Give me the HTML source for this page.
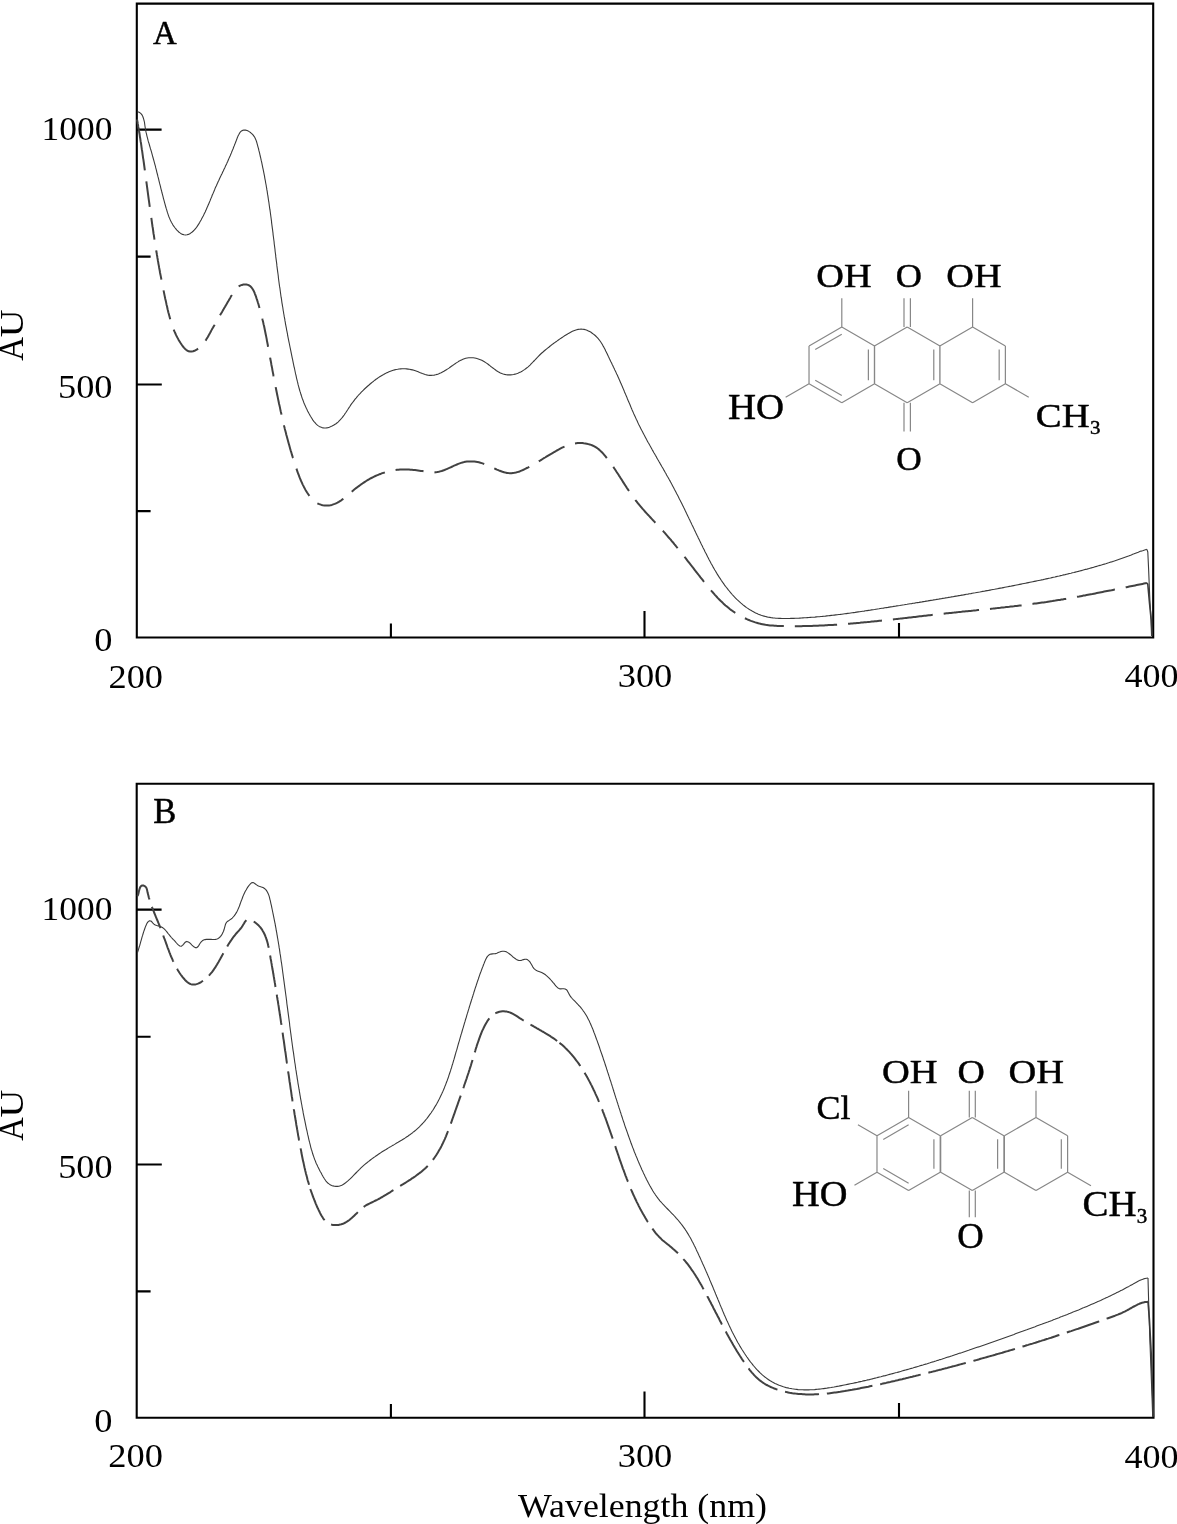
<!DOCTYPE html>
<html><head><meta charset="utf-8"><title>UV spectra</title>
<style>
html,body{margin:0;padding:0;background:#fff;}
body{width:1177px;height:1524px;overflow:hidden;position:relative;font-family:"Liberation Serif",serif;}
svg{position:absolute;left:0;top:0;display:block;filter:grayscale(100%);}
</style></head>
<body>
<svg width="1177" height="1524" viewBox="0 0 1177 1524">
<rect x="0" y="0" width="1177" height="1524" fill="#ffffff"/>
<!-- Panel A frame and ticks -->
<g fill="none" stroke="#000" stroke-width="2.1">
<path d="M136.8,3.6 H1153.2 V637.5 H136.8 Z"/>
<path d="M136.8,129.6 H161.6 M136.8,256.6 H150.6 M136.8,384.5 H161.8 M136.8,511.1 H150.6"/>
<path d="M390.9,623.5 V637.5 M644.5,611 V637.5 M899,623 V637.5"/>
</g>
<!-- Panel B frame and ticks -->
<g fill="none" stroke="#000" stroke-width="2.1">
<path d="M136.7,783.8 H1153.5 V1417.7 H136.7 Z"/>
<path d="M136.7,909.6 H161.6 M136.7,1036.7 H150.6 M136.7,1164.5 H161.8 M136.7,1291.4 H150.6"/>
<path d="M390.9,1404 V1417.7 M644.5,1391.5 V1417.7 M899,1403 V1417.7"/>
</g>
<!-- curves -->
<g fill="none" stroke-linejoin="round">
<path d="M137.7,111.7 L139.1,112.2 L140.4,113.1 L141.4,114.1 L142.3,115.4 L142.9,116.8 L143.4,118.2 L143.8,119.6 L144.2,121.1 L144.5,122.5 L144.7,124.0 L144.9,125.5 L145.1,127.0 L145.4,128.5 L145.7,130.0 L145.9,131.4 L146.2,132.9 L146.6,134.4 L146.9,135.8 L147.3,137.3 L147.7,138.8 L148.0,140.2 L148.4,141.7 L148.9,143.1 L149.3,144.5 L149.7,146.0 L150.1,147.4 L150.5,148.9 L151.0,150.3 L151.4,151.7 L151.8,153.2 L152.2,154.6 L152.6,156.1 L153.0,157.5 L153.4,159.0 L153.8,160.4 L154.2,161.9 L154.6,163.3 L155.0,164.8 L155.4,166.2 L155.7,167.7 L156.1,169.2 L156.5,170.6 L156.8,172.1 L157.2,173.5 L157.6,175.0 L157.9,176.4 L158.3,177.9 L158.7,179.4 L159.0,180.8 L159.4,182.3 L159.7,183.7 L160.1,185.2 L160.5,186.6 L160.8,188.1 L161.2,189.6 L161.6,191.0 L161.9,192.5 L162.3,193.9 L162.7,195.4 L163.1,196.8 L163.4,198.3 L163.8,199.7 L164.2,201.2 L164.6,202.6 L165.0,204.1 L165.4,205.5 L165.8,207.0 L166.2,208.4 L166.7,209.9 L167.1,211.3 L167.5,212.7 L168.0,214.2 L168.5,215.6 L169.0,217.0 L169.6,218.4 L170.2,219.8 L170.8,221.1 L171.5,222.5 L172.3,223.8 L173.0,225.1 L173.9,226.3 L174.7,227.5 L175.7,228.7 L176.6,229.9 L177.7,230.9 L178.8,232.0 L180.0,232.9 L181.2,233.7 L182.6,234.4 L184.0,234.8 L185.5,235.0 L187.0,234.8 L188.4,234.4 L189.8,233.8 L191.0,232.9 L192.2,232.0 L193.3,231.0 L194.4,229.9 L195.3,228.8 L196.3,227.6 L197.2,226.4 L198.0,225.1 L198.8,223.9 L199.6,222.6 L200.3,221.3 L201.1,220.0 L201.8,218.6 L202.5,217.3 L203.2,216.0 L203.9,214.6 L204.5,213.3 L205.2,211.9 L205.8,210.6 L206.4,209.2 L207.0,207.8 L207.6,206.4 L208.2,205.1 L208.8,203.7 L209.4,202.3 L210.0,200.9 L210.5,199.5 L211.1,198.1 L211.7,196.7 L212.2,195.3 L212.8,194.0 L213.4,192.6 L214.0,191.2 L214.6,189.8 L215.1,188.4 L215.7,187.0 L216.4,185.7 L217.0,184.3 L217.6,182.9 L218.2,181.6 L218.9,180.2 L219.5,178.8 L220.1,177.5 L220.8,176.1 L221.4,174.8 L222.1,173.4 L222.7,172.1 L223.4,170.7 L224.0,169.3 L224.7,168.0 L225.3,166.6 L225.9,165.3 L226.6,163.9 L227.2,162.5 L227.8,161.2 L228.4,159.8 L229.0,158.4 L229.6,157.0 L230.2,155.7 L230.8,154.3 L231.4,152.9 L231.9,151.5 L232.5,150.1 L233.1,148.7 L233.6,147.3 L234.2,145.9 L234.7,144.5 L235.3,143.1 L235.8,141.7 L236.4,140.3 L236.9,138.9 L237.4,137.5 L238.0,136.1 L238.7,134.8 L239.4,133.4 L240.2,132.2 L241.3,131.1 L242.6,130.4 L244.0,130.0 L245.5,130.1 L247.0,130.5 L248.3,131.1 L249.6,131.9 L250.8,132.8 L252.0,133.8 L253.0,134.9 L253.9,136.1 L254.7,137.3 L255.4,138.7 L256.0,140.1 L256.5,141.5 L256.9,142.9 L257.3,144.3 L257.7,145.8 L258.1,147.3 L258.5,148.7 L258.8,150.2 L259.2,151.6 L259.6,153.1 L259.9,154.6 L260.2,156.0 L260.6,157.5 L260.9,158.9 L261.2,160.4 L261.6,161.9 L261.9,163.3 L262.2,164.8 L262.5,166.3 L262.8,167.8 L263.1,169.2 L263.4,170.7 L263.7,172.2 L264.0,173.6 L264.3,175.1 L264.6,176.6 L264.8,178.1 L265.1,179.6 L265.4,181.0 L265.6,182.5 L265.9,184.0 L266.2,185.5 L266.4,187.0 L266.7,188.4 L266.9,189.9 L267.2,191.4 L267.4,192.9 L267.6,194.4 L267.9,195.9 L268.1,197.3 L268.3,198.8 L268.5,200.3 L268.8,201.8 L269.0,203.3 L269.2,204.8 L269.4,206.3 L269.6,207.7 L269.8,209.2 L270.1,210.7 L270.3,212.2 L270.5,213.7 L270.7,215.2 L270.9,216.7 L271.1,218.2 L271.3,219.7 L271.5,221.1 L271.6,222.6 L271.8,224.1 L272.0,225.6 L272.2,227.1 L272.4,228.6 L272.6,230.1 L272.8,231.6 L273.0,233.1 L273.1,234.6 L273.3,236.0 L273.5,237.5 L273.7,239.0 L273.9,240.5 L274.1,242.0 L274.2,243.5 L274.4,245.0 L274.6,246.5 L274.8,248.0 L275.0,249.5 L275.1,251.0 L275.3,252.5 L275.5,254.0 L275.7,255.4 L275.8,256.9 L276.0,258.4 L276.2,259.9 L276.4,261.4 L276.6,262.9 L276.8,264.4 L276.9,265.9 L277.1,267.4 L277.3,268.9 L277.5,270.4 L277.7,271.8 L277.9,273.3 L278.1,274.8 L278.3,276.3 L278.4,277.8 L278.6,279.3 L278.8,280.8 L279.0,282.3 L279.2,283.8 L279.4,285.3 L279.6,286.7 L279.9,288.2 L280.1,289.7 L280.3,291.2 L280.5,292.7 L280.7,294.2 L280.9,295.7 L281.1,297.2 L281.4,298.6 L281.6,300.1 L281.8,301.6 L282.0,303.1 L282.3,304.6 L282.5,306.1 L282.8,307.5 L283.0,309.0 L283.2,310.5 L283.5,312.0 L283.7,313.5 L284.0,315.0 L284.2,316.4 L284.5,317.9 L284.8,319.4 L285.0,320.9 L285.3,322.4 L285.5,323.8 L285.8,325.3 L286.1,326.8 L286.4,328.3 L286.6,329.8 L286.9,331.2 L287.2,332.7 L287.5,334.2 L287.7,335.7 L288.0,337.1 L288.3,338.6 L288.6,340.1 L288.9,341.6 L289.2,343.0 L289.5,344.5 L289.8,346.0 L290.1,347.5 L290.4,348.9 L290.7,350.4 L291.0,351.9 L291.3,353.3 L291.6,354.8 L291.9,356.3 L292.2,357.8 L292.5,359.2 L292.8,360.7 L293.1,362.2 L293.4,363.6 L293.7,365.1 L294.0,366.6 L294.4,368.0 L294.7,369.5 L295.0,371.0 L295.3,372.5 L295.6,373.9 L296.0,375.4 L296.3,376.9 L296.6,378.3 L297.0,379.8 L297.3,381.2 L297.7,382.7 L298.0,384.2 L298.4,385.6 L298.8,387.1 L299.2,388.5 L299.6,390.0 L300.0,391.4 L300.5,392.8 L300.9,394.3 L301.4,395.7 L301.8,397.1 L302.3,398.5 L302.9,400.0 L303.4,401.4 L303.9,402.8 L304.5,404.2 L305.1,405.5 L305.7,406.9 L306.3,408.3 L307.0,409.6 L307.6,411.0 L308.3,412.3 L309.0,413.6 L309.8,415.0 L310.5,416.3 L311.3,417.5 L312.1,418.8 L312.9,420.1 L313.8,421.3 L314.8,422.4 L315.8,423.6 L316.8,424.6 L318.0,425.6 L319.2,426.4 L320.6,427.1 L322.0,427.6 L323.5,427.9 L325.0,428.0 L326.4,427.9 L327.9,427.6 L329.4,427.2 L330.8,426.6 L332.1,426.0 L333.5,425.3 L334.7,424.5 L336.0,423.7 L337.2,422.8 L338.3,421.8 L339.4,420.7 L340.4,419.7 L341.4,418.5 L342.4,417.4 L343.3,416.2 L344.2,415.0 L345.0,413.7 L345.9,412.5 L346.7,411.2 L347.5,410.0 L348.3,408.7 L349.2,407.4 L350.0,406.2 L350.8,404.9 L351.7,403.7 L352.6,402.5 L353.5,401.3 L354.4,400.1 L355.3,398.9 L356.3,397.8 L357.2,396.6 L358.2,395.5 L359.2,394.4 L360.3,393.3 L361.3,392.2 L362.4,391.1 L363.4,390.1 L364.5,389.0 L365.6,388.0 L366.7,387.0 L367.8,386.0 L369.0,385.0 L370.1,384.0 L371.3,383.0 L372.4,382.1 L373.6,381.2 L374.8,380.2 L376.0,379.3 L377.2,378.5 L378.4,377.6 L379.7,376.8 L381.0,376.0 L382.3,375.2 L383.6,374.5 L384.9,373.7 L386.2,373.1 L387.6,372.4 L389.0,371.8 L390.4,371.3 L391.8,370.8 L393.2,370.3 L394.6,369.9 L396.1,369.5 L397.6,369.3 L399.1,369.0 L400.6,368.9 L402.1,368.8 L403.6,368.8 L405.1,368.8 L406.6,368.9 L408.1,369.1 L409.5,369.3 L411.0,369.6 L412.5,369.9 L413.9,370.3 L415.4,370.8 L416.8,371.3 L418.2,371.8 L419.6,372.4 L421.0,372.9 L422.4,373.5 L423.8,374.0 L425.2,374.5 L426.7,374.9 L428.1,375.2 L429.6,375.4 L431.1,375.4 L432.6,375.3 L434.1,375.1 L435.6,374.8 L437.0,374.4 L438.4,373.9 L439.8,373.3 L441.2,372.7 L442.5,372.0 L443.9,371.3 L445.1,370.5 L446.4,369.7 L447.7,368.9 L448.9,368.1 L450.1,367.2 L451.4,366.3 L452.6,365.5 L453.8,364.6 L455.1,363.7 L456.3,362.9 L457.6,362.1 L458.8,361.3 L460.2,360.6 L461.5,359.9 L462.9,359.3 L464.3,358.7 L465.7,358.3 L467.2,358.0 L468.7,357.8 L470.2,357.7 L471.7,357.7 L473.2,357.8 L474.7,358.0 L476.1,358.3 L477.6,358.7 L479.0,359.2 L480.4,359.7 L481.8,360.3 L483.1,361.0 L484.4,361.8 L485.7,362.6 L486.9,363.4 L488.1,364.3 L489.3,365.2 L490.5,366.2 L491.7,367.1 L492.9,368.0 L494.1,368.9 L495.3,369.8 L496.5,370.7 L497.8,371.5 L499.1,372.2 L500.4,372.9 L501.8,373.5 L503.2,374.0 L504.7,374.4 L506.2,374.7 L507.6,374.9 L509.1,374.9 L510.6,374.9 L512.1,374.7 L513.6,374.5 L515.1,374.1 L516.5,373.7 L517.9,373.2 L519.3,372.6 L520.7,371.9 L522.0,371.2 L523.3,370.4 L524.5,369.6 L525.7,368.7 L526.9,367.8 L528.1,366.8 L529.2,365.8 L530.3,364.8 L531.3,363.7 L532.4,362.6 L533.4,361.5 L534.5,360.5 L535.5,359.4 L536.5,358.3 L537.6,357.2 L538.6,356.1 L539.7,355.0 L540.7,354.0 L541.8,353.0 L543.0,352.0 L544.1,351.0 L545.3,350.0 L546.4,349.1 L547.6,348.1 L548.8,347.2 L549.9,346.3 L551.1,345.3 L552.3,344.4 L553.5,343.5 L554.7,342.6 L556.0,341.7 L557.2,340.9 L558.4,340.0 L559.6,339.1 L560.9,338.3 L562.1,337.5 L563.4,336.6 L564.6,335.8 L565.9,335.0 L567.2,334.2 L568.5,333.4 L569.8,332.7 L571.1,332.0 L572.4,331.3 L573.8,330.7 L575.2,330.2 L576.7,329.7 L578.1,329.4 L579.6,329.2 L581.1,329.1 L582.6,329.2 L584.1,329.4 L585.5,329.8 L587.0,330.3 L588.3,330.9 L589.7,331.6 L591.0,332.3 L592.2,333.2 L593.4,334.1 L594.6,335.0 L595.7,336.0 L596.8,337.1 L597.8,338.2 L598.8,339.3 L599.7,340.5 L600.6,341.8 L601.4,343.0 L602.2,344.3 L602.9,345.6 L603.7,346.9 L604.4,348.2 L605.1,349.6 L605.7,350.9 L606.4,352.2 L607.0,353.6 L607.7,355.0 L608.3,356.3 L609.0,357.7 L609.6,359.0 L610.3,360.4 L610.9,361.7 L611.6,363.1 L612.2,364.4 L612.9,365.8 L613.5,367.2 L614.2,368.5 L614.8,369.9 L615.5,371.2 L616.1,372.6 L616.7,374.0 L617.4,375.3 L618.0,376.7 L618.6,378.1 L619.2,379.4 L619.8,380.8 L620.4,382.2 L621.0,383.6 L621.6,384.9 L622.2,386.3 L622.8,387.7 L623.4,389.1 L624.0,390.5 L624.5,391.9 L625.1,393.2 L625.7,394.6 L626.3,396.0 L626.9,397.4 L627.4,398.8 L628.0,400.2 L628.6,401.6 L629.2,402.9 L629.8,404.3 L630.4,405.7 L630.9,407.1 L631.5,408.5 L632.1,409.9 L632.7,411.2 L633.3,412.6 L633.9,414.0 L634.6,415.4 L635.2,416.7 L635.8,418.1 L636.4,419.5 L637.1,420.8 L637.7,422.2 L638.3,423.5 L639.0,424.9 L639.7,426.2 L640.3,427.6 L641.0,428.9 L641.7,430.3 L642.4,431.6 L643.1,432.9 L643.8,434.3 L644.5,435.6 L645.2,436.9 L645.9,438.2 L646.6,439.6 L647.3,440.9 L648.0,442.2 L648.8,443.5 L649.5,444.8 L650.2,446.1 L651.0,447.5 L651.7,448.8 L652.4,450.1 L653.2,451.4 L653.9,452.7 L654.7,454.0 L655.4,455.3 L656.2,456.6 L656.9,457.9 L657.6,459.2 L658.4,460.5 L659.1,461.8 L659.9,463.1 L660.6,464.4 L661.4,465.7 L662.1,467.0 L662.9,468.3 L663.6,469.6 L664.4,470.9 L665.1,472.2 L665.9,473.5 L666.6,474.9 L667.3,476.2 L668.1,477.5 L668.8,478.8 L669.5,480.1 L670.3,481.4 L671.0,482.7 L671.7,484.1 L672.4,485.4 L673.1,486.7 L673.8,488.0 L674.5,489.4 L675.2,490.7 L675.9,492.0 L676.6,493.4 L677.3,494.7 L678.0,496.0 L678.7,497.4 L679.3,498.7 L680.0,500.1 L680.7,501.4 L681.4,502.7 L682.0,504.1 L682.7,505.4 L683.4,506.8 L684.0,508.1 L684.7,509.5 L685.3,510.8 L686.0,512.2 L686.6,513.5 L687.3,514.9 L687.9,516.2 L688.6,517.6 L689.2,519.0 L689.9,520.3 L690.5,521.7 L691.2,523.0 L691.8,524.4 L692.5,525.7 L693.1,527.1 L693.8,528.4 L694.4,529.8 L695.1,531.2 L695.7,532.5 L696.4,533.9 L697.0,535.2 L697.7,536.6 L698.3,537.9 L699.0,539.3 L699.6,540.6 L700.3,542.0 L700.9,543.3 L701.6,544.7 L702.3,546.0 L702.9,547.4 L703.6,548.7 L704.3,550.1 L704.9,551.4 L705.6,552.8 L706.3,554.1 L707.0,555.5 L707.6,556.8 L708.3,558.1 L709.0,559.5 L709.7,560.8 L710.4,562.1 L711.1,563.4 L711.9,564.8 L712.6,566.1 L713.3,567.4 L714.1,568.7 L714.8,570.0 L715.6,571.3 L716.4,572.6 L717.1,573.9 L717.9,575.1 L718.7,576.4 L719.5,577.7 L720.4,578.9 L721.2,580.2 L722.0,581.4 L722.9,582.7 L723.8,583.9 L724.6,585.1 L725.5,586.3 L726.5,587.5 L727.4,588.7 L728.3,589.9 L729.3,591.0 L730.2,592.2 L731.2,593.3 L732.2,594.5 L733.2,595.6 L734.2,596.7 L735.3,597.8 L736.3,598.8 L737.4,599.9 L738.5,600.9 L739.6,601.9 L740.7,602.9 L741.9,603.9 L743.0,604.9 L744.2,605.8 L745.4,606.7 L746.6,607.6 L747.8,608.4 L749.1,609.3 L750.4,610.1 L751.7,610.8 L753.0,611.6 L754.3,612.3 L755.6,613.0 L757.0,613.6 L758.4,614.2 L759.8,614.7 L761.2,615.3 L762.6,615.7 L764.0,616.1 L765.5,616.5 L767.0,616.9 L768.4,617.2 L769.9,617.4 L771.4,617.7 L772.9,617.9 L774.4,618.0 L775.9,618.2 L777.4,618.3 L778.9,618.4 L780.4,618.4 L781.9,618.5 L783.4,618.5 L784.9,618.5 L786.4,618.5 L787.9,618.5 L789.4,618.5 L790.9,618.4 L792.4,618.4 L793.9,618.4 L795.4,618.3 L796.9,618.2 L798.4,618.2 L799.9,618.1 L801.4,618.0 L802.9,617.9 L804.4,617.8 L805.9,617.7 L807.4,617.6 L808.9,617.5 L810.4,617.4 L811.9,617.3 L813.4,617.2 L814.9,617.1 L816.4,616.9 L817.9,616.8 L819.4,616.7 L820.9,616.5 L822.4,616.4 L823.9,616.2 L825.4,616.1 L826.9,615.9 L828.4,615.8 L829.8,615.6 L831.3,615.4 L832.8,615.3 L834.3,615.1 L835.8,614.9 L837.3,614.7 L838.8,614.5 L840.3,614.4 L841.8,614.2 L843.3,614.0 L844.8,613.8 L846.3,613.6 L847.7,613.4 L849.2,613.2 L850.7,613.0 L852.2,612.8 L853.7,612.6 L855.2,612.4 L856.7,612.1 L858.2,611.9 L859.6,611.7 L861.1,611.5 L862.6,611.3 L864.1,611.1 L865.6,610.8 L867.1,610.6 L868.6,610.4 L870.0,610.2 L871.5,609.9 L873.0,609.7 L874.5,609.5 L876.0,609.2 L877.5,609.0 L879.0,608.8 L880.4,608.5 L881.9,608.3 L883.4,608.1 L884.9,607.8 L886.4,607.6 L887.9,607.4 L889.3,607.1 L890.8,606.9 L892.3,606.7 L893.8,606.4 L895.3,606.2 L896.8,605.9 L898.2,605.7 L899.7,605.5 L901.2,605.2 L902.7,605.0 L904.2,604.8 L905.7,604.5 L907.1,604.3 L908.6,604.0 L910.1,603.8 L911.6,603.6 L913.1,603.3 L914.6,603.1 L916.0,602.8 L917.5,602.6 L919.0,602.4 L920.5,602.1 L922.0,601.9 L923.5,601.6 L924.9,601.4 L926.4,601.1 L927.9,600.9 L929.4,600.6 L930.9,600.4 L932.4,600.2 L933.8,599.9 L935.3,599.7 L936.8,599.4 L938.3,599.2 L939.8,598.9 L941.2,598.7 L942.7,598.4 L944.2,598.2 L945.7,597.9 L947.2,597.7 L948.7,597.4 L950.1,597.2 L951.6,596.9 L953.1,596.7 L954.6,596.4 L956.1,596.1 L957.5,595.9 L959.0,595.6 L960.5,595.4 L962.0,595.1 L963.5,594.9 L964.9,594.6 L966.4,594.3 L967.9,594.1 L969.4,593.8 L970.9,593.6 L972.3,593.3 L973.8,593.0 L975.3,592.8 L976.8,592.5 L978.3,592.2 L979.7,592.0 L981.2,591.7 L982.7,591.4 L984.2,591.2 L985.6,590.9 L987.1,590.6 L988.6,590.4 L990.1,590.1 L991.6,589.8 L993.0,589.5 L994.5,589.3 L996.0,589.0 L997.5,588.7 L998.9,588.4 L1000.4,588.1 L1001.9,587.9 L1003.4,587.6 L1004.8,587.3 L1006.3,587.0 L1007.8,586.7 L1009.3,586.4 L1010.7,586.2 L1012.2,585.9 L1013.7,585.6 L1015.2,585.3 L1016.6,585.0 L1018.1,584.7 L1019.6,584.4 L1021.1,584.1 L1022.5,583.8 L1024.0,583.5 L1025.5,583.2 L1027.0,582.9 L1028.4,582.6 L1029.9,582.3 L1031.4,582.0 L1032.8,581.7 L1034.3,581.4 L1035.8,581.1 L1037.3,580.8 L1038.7,580.5 L1040.2,580.2 L1041.7,579.9 L1043.1,579.6 L1044.6,579.2 L1046.1,578.9 L1047.5,578.6 L1049.0,578.3 L1050.5,578.0 L1051.9,577.6 L1053.4,577.3 L1054.9,577.0 L1056.3,576.6 L1057.8,576.3 L1059.3,576.0 L1060.7,575.6 L1062.2,575.3 L1063.7,574.9 L1065.1,574.6 L1066.6,574.2 L1068.0,573.9 L1069.5,573.5 L1071.0,573.2 L1072.4,572.8 L1073.9,572.5 L1075.3,572.1 L1076.8,571.7 L1078.3,571.4 L1079.7,571.0 L1081.2,570.6 L1082.6,570.2 L1084.1,569.8 L1085.5,569.4 L1087.0,569.1 L1088.4,568.7 L1089.9,568.3 L1091.3,567.9 L1092.8,567.5 L1094.2,567.1 L1095.7,566.6 L1097.1,566.2 L1098.5,565.8 L1100.0,565.4 L1101.4,565.0 L1102.9,564.5 L1104.3,564.1 L1105.7,563.7 L1107.2,563.2 L1108.6,562.8 L1110.1,562.3 L1111.5,561.9 L1112.9,561.4 L1114.3,561.0 L1115.8,560.5 L1117.2,560.0 L1118.6,559.5 L1120.0,559.0 L1121.5,558.5 L1122.9,558.0 L1124.3,557.5 L1125.7,557.0 L1127.1,556.5 L1128.5,556.0 L1129.9,555.4 L1131.3,554.9 L1132.7,554.3 L1134.1,553.8 L1135.5,553.2 L1136.9,552.7 L1138.3,552.2 L1139.7,551.6 L1141.1,551.1 L1142.6,550.7 L1144.0,550.2 L1145.4,549.8 L1146.9,549.4" stroke="#3a3a3a" stroke-width="1.1"/>
<path d="M137.0,119.5 L137.3,121.0 L137.6,122.5 L137.8,124.0 L138.1,125.4 L138.3,126.9 L138.6,128.4 L138.8,129.9 L139.1,131.4 L139.3,132.8 L139.6,134.3 L139.8,135.8 L140.0,137.3 L140.3,138.8 L140.5,140.3 L140.7,141.7 L141.0,143.2 L141.2,144.7 L141.4,146.2 L141.6,147.7 L141.8,149.2 L142.1,150.7 L142.3,152.1 L142.5,153.6 L142.7,155.1 L142.9,156.6 L143.1,158.1 L143.4,159.6 L143.6,161.1 L143.8,162.5 L144.0,164.0 L144.2,165.5 L144.4,167.0 L144.6,168.5 L144.8,170.0 L145.0,171.5 L145.2,173.0 L145.4,174.4 L145.6,175.9 L145.8,177.4 L146.0,178.9 L146.2,180.4 L146.4,181.9 L146.6,183.4 L146.8,184.9 L147.0,186.4 L147.2,187.8 L147.4,189.3 L147.6,190.8 L147.8,192.3 L148.0,193.8 L148.2,195.3 L148.4,196.8 L148.6,198.3 L148.8,199.8 L149.0,201.2 L149.2,202.7 L149.4,204.2 L149.6,205.7 L149.8,207.2 L150.0,208.7 L150.2,210.2 L150.4,211.7 L150.6,213.1 L150.8,214.6 L151.1,216.1 L151.3,217.6 L151.5,219.1 L151.7,220.6 L151.9,222.1 L152.1,223.6 L152.3,225.0 L152.5,226.5 L152.8,228.0 L153.0,229.5 L153.2,231.0 L153.4,232.5 L153.6,234.0 L153.9,235.4 L154.1,236.9 L154.3,238.4 L154.5,239.9 L154.8,241.4 L155.0,242.9 L155.2,244.4 L155.5,245.8 L155.7,247.3 L156.0,248.8 L156.2,250.3 L156.4,251.8 L156.7,253.2 L156.9,254.7 L157.2,256.2 L157.4,257.7 L157.7,259.2 L157.9,260.7 L158.2,262.1 L158.4,263.6 L158.7,265.1 L159.0,266.6 L159.2,268.0 L159.5,269.5 L159.8,271.0 L160.0,272.5 L160.3,274.0 L160.6,275.4 L160.9,276.9 L161.2,278.4 L161.4,279.9 L161.7,281.3 L162.0,282.8 L162.3,284.3 L162.6,285.8 L162.9,287.2 L163.2,288.7 L163.5,290.2 L163.8,291.6 L164.1,293.1 L164.4,294.6 L164.7,296.1 L165.0,297.5 L165.3,299.0 L165.7,300.5 L166.0,301.9 L166.3,303.4 L166.6,304.9 L167.0,306.3 L167.3,307.8 L167.6,309.3 L168.0,310.7 L168.3,312.2 L168.7,313.6 L169.1,315.1 L169.5,316.5 L169.9,318.0 L170.3,319.4 L170.7,320.9 L171.1,322.3 L171.6,323.7 L172.1,325.2 L172.6,326.6 L173.1,328.0 L173.6,329.4 L174.2,330.8 L174.8,332.2 L175.4,333.5 L176.0,334.9 L176.7,336.3 L177.4,337.6 L178.1,338.9 L178.8,340.2 L179.6,341.5 L180.4,342.8 L181.2,344.0 L182.1,345.3 L183.0,346.5 L183.9,347.6 L184.9,348.7 L186.1,349.7 L187.3,350.6 L188.6,351.3 L190.1,351.6 L191.6,351.6 L193.1,351.3 L194.5,350.8 L195.8,350.1 L197.1,349.4 L198.3,348.5 L199.5,347.6 L200.6,346.6 L201.7,345.5 L202.7,344.4 L203.7,343.2 L204.6,342.0 L205.4,340.8 L206.2,339.6 L207.0,338.3 L207.8,337.0 L208.5,335.7 L209.2,334.4 L210.0,333.0 L210.7,331.7 L211.4,330.4 L212.1,329.1 L212.9,327.8 L213.6,326.5 L214.4,325.2 L215.1,323.9 L215.8,322.6 L216.6,321.3 L217.3,320.0 L218.1,318.7 L218.8,317.4 L219.6,316.1 L220.3,314.8 L221.1,313.5 L221.9,312.2 L222.6,310.9 L223.4,309.6 L224.1,308.3 L224.9,307.0 L225.6,305.7 L226.4,304.4 L227.2,303.1 L227.9,301.8 L228.7,300.5 L229.4,299.2 L230.2,297.9 L230.9,296.6 L231.7,295.3 L232.4,294.0 L233.2,292.7 L234.0,291.4 L234.9,290.2 L235.8,289.0 L236.9,287.9 L238.0,287.0 L239.2,286.1 L240.6,285.4 L242.0,284.9 L243.4,284.6 L244.9,284.5 L246.4,284.5 L247.9,284.9 L249.3,285.5 L250.5,286.4 L251.5,287.5 L252.4,288.7 L253.2,290.0 L253.9,291.3 L254.5,292.7 L255.0,294.1 L255.6,295.5 L256.1,296.9 L256.5,298.3 L257.0,299.7 L257.5,301.2 L257.9,302.6 L258.4,304.0 L258.8,305.5 L259.2,306.9 L259.6,308.4 L260.0,309.8 L260.4,311.2 L260.8,312.7 L261.2,314.2 L261.6,315.6 L261.9,317.1 L262.3,318.5 L262.6,320.0 L263.0,321.4 L263.3,322.9 L263.6,324.4 L264.0,325.8 L264.3,327.3 L264.6,328.8 L264.9,330.3 L265.2,331.7 L265.5,333.2 L265.8,334.7 L266.1,336.1 L266.4,337.6 L266.7,339.1 L266.9,340.6 L267.2,342.0 L267.5,343.5 L267.8,345.0 L268.0,346.5 L268.3,347.9 L268.6,349.4 L268.9,350.9 L269.1,352.4 L269.4,353.9 L269.7,355.3 L270.0,356.8 L270.2,358.3 L270.5,359.8 L270.8,361.2 L271.1,362.7 L271.3,364.2 L271.6,365.7 L271.9,367.1 L272.2,368.6 L272.4,370.1 L272.7,371.6 L273.0,373.1 L273.3,374.5 L273.5,376.0 L273.8,377.5 L274.1,379.0 L274.4,380.4 L274.7,381.9 L275.0,383.4 L275.2,384.9 L275.5,386.3 L275.8,387.8 L276.1,389.3 L276.4,390.7 L276.7,392.2 L277.0,393.7 L277.3,395.2 L277.6,396.6 L277.9,398.1 L278.2,399.6 L278.5,401.0 L278.8,402.5 L279.1,404.0 L279.5,405.5 L279.8,406.9 L280.1,408.4 L280.4,409.9 L280.7,411.3 L281.1,412.8 L281.4,414.3 L281.7,415.7 L282.1,417.2 L282.4,418.6 L282.7,420.1 L283.1,421.6 L283.4,423.0 L283.8,424.5 L284.1,426.0 L284.5,427.4 L284.8,428.9 L285.2,430.3 L285.6,431.8 L286.0,433.2 L286.3,434.7 L286.7,436.1 L287.1,437.6 L287.5,439.1 L287.9,440.5 L288.3,442.0 L288.7,443.4 L289.1,444.8 L289.5,446.3 L289.9,447.7 L290.3,449.2 L290.7,450.6 L291.2,452.1 L291.6,453.5 L292.0,454.9 L292.5,456.4 L292.9,457.8 L293.4,459.2 L293.8,460.7 L294.3,462.1 L294.7,463.5 L295.2,465.0 L295.7,466.4 L296.2,467.8 L296.6,469.2 L297.1,470.6 L297.6,472.1 L298.1,473.5 L298.7,474.9 L299.2,476.3 L299.7,477.7 L300.3,479.1 L300.9,480.5 L301.5,481.8 L302.1,483.2 L302.7,484.6 L303.4,485.9 L304.1,487.3 L304.8,488.6 L305.5,489.9 L306.3,491.2 L307.1,492.5 L307.9,493.7 L308.8,495.0 L309.6,496.2 L310.6,497.4 L311.5,498.5 L312.5,499.6 L313.6,500.7 L314.8,501.6 L316.0,502.5 L317.3,503.3 L318.6,503.9 L320.0,504.4 L321.5,504.9 L322.9,505.2 L324.4,505.4 L325.9,505.5 L327.4,505.5 L328.9,505.4 L330.4,505.2 L331.9,504.9 L333.3,504.4 L334.7,503.9 L336.1,503.3 L337.5,502.7 L338.8,501.9 L340.0,501.1 L341.3,500.3 L342.5,499.4 L343.7,498.5 L344.9,497.6 L346.0,496.6 L347.2,495.6 L348.3,494.7 L349.4,493.7 L350.6,492.7 L351.7,491.7 L352.9,490.7 L354.0,489.8 L355.2,488.8 L356.4,487.9 L357.6,487.0 L358.8,486.1 L360.0,485.2 L361.2,484.3 L362.4,483.5 L363.7,482.6 L364.9,481.8 L366.2,481.0 L367.5,480.2 L368.8,479.5 L370.1,478.7 L371.4,478.0 L372.7,477.3 L374.1,476.6 L375.4,476.0 L376.8,475.4 L378.2,474.8 L379.6,474.2 L381.0,473.7 L382.4,473.1 L383.8,472.7 L385.2,472.2 L386.7,471.8 L388.1,471.4 L389.6,471.1 L391.1,470.7 L392.5,470.5 L394.0,470.2 L395.5,470.0 L397.0,469.8 L398.5,469.7 L400.0,469.6 L401.5,469.5 L403.0,469.5 L404.5,469.5 L406.0,469.5 L407.5,469.6 L409.0,469.6 L410.5,469.7 L412.0,469.8 L413.5,470.0 L415.0,470.1 L416.5,470.3 L418.0,470.5 L419.5,470.7 L420.9,470.9 L422.4,471.1 L423.9,471.4 L425.4,471.6 L426.9,471.9 L428.4,472.1 L429.8,472.3 L431.3,472.4 L432.8,472.5 L434.3,472.5 L435.8,472.3 L437.3,472.1 L438.8,471.8 L440.2,471.4 L441.7,471.0 L443.1,470.5 L444.5,470.0 L445.9,469.4 L447.3,468.8 L448.7,468.2 L450.0,467.6 L451.4,467.0 L452.7,466.3 L454.1,465.7 L455.5,465.1 L456.9,464.5 L458.3,463.9 L459.7,463.4 L461.1,462.9 L462.5,462.5 L464.0,462.1 L465.4,461.8 L466.9,461.6 L468.4,461.4 L469.9,461.4 L471.4,461.4 L472.9,461.4 L474.4,461.6 L475.9,461.8 L477.4,462.0 L478.9,462.3 L480.3,462.7 L481.8,463.1 L483.2,463.6 L484.6,464.1 L486.0,464.7 L487.4,465.2 L488.8,465.8 L490.1,466.5 L491.5,467.1 L492.8,467.7 L494.2,468.4 L495.6,469.0 L496.9,469.6 L498.3,470.2 L499.7,470.8 L501.1,471.3 L502.5,471.8 L504.0,472.2 L505.4,472.6 L506.9,472.9 L508.4,473.1 L509.9,473.2 L511.4,473.2 L512.9,473.0 L514.4,472.8 L515.9,472.5 L517.3,472.1 L518.7,471.7 L520.1,471.2 L521.5,470.6 L522.9,470.0 L524.3,469.3 L525.6,468.7 L526.9,468.0 L528.3,467.3 L529.6,466.6 L530.9,465.8 L532.2,465.1 L533.5,464.4 L534.8,463.6 L536.1,462.9 L537.4,462.1 L538.7,461.3 L540.0,460.6 L541.3,459.8 L542.6,459.0 L543.9,458.2 L545.1,457.5 L546.4,456.7 L547.7,455.9 L549.0,455.1 L550.3,454.3 L551.6,453.6 L552.9,452.8 L554.2,452.0 L555.5,451.3 L556.8,450.5 L558.1,449.8 L559.4,449.1 L560.7,448.4 L562.1,447.7 L563.4,447.1 L564.8,446.5 L566.2,445.9 L567.6,445.4 L569.0,444.9 L570.5,444.5 L571.9,444.1 L573.4,443.8 L574.9,443.5 L576.3,443.3 L577.8,443.1 L579.3,443.1 L580.8,443.1 L582.3,443.1 L583.8,443.3 L585.3,443.4 L586.8,443.7 L588.3,444.1 L589.7,444.5 L591.1,444.9 L592.5,445.5 L593.9,446.1 L595.2,446.9 L596.5,447.7 L597.7,448.5 L598.9,449.4 L600.0,450.4 L601.1,451.5 L602.2,452.5 L603.2,453.6 L604.2,454.8 L605.1,455.9 L606.1,457.1 L607.0,458.3 L607.9,459.5 L608.8,460.7 L609.7,461.9 L610.6,463.1 L611.5,464.3 L612.3,465.5 L613.2,466.8 L614.0,468.0 L614.9,469.3 L615.7,470.5 L616.5,471.8 L617.3,473.0 L618.2,474.3 L619.0,475.6 L619.8,476.8 L620.6,478.1 L621.4,479.3 L622.2,480.6 L623.0,481.9 L623.8,483.1 L624.6,484.4 L625.5,485.7 L626.3,486.9 L627.1,488.2 L627.9,489.4 L628.8,490.7 L629.6,491.9 L630.4,493.2 L631.3,494.4 L632.2,495.6 L633.0,496.9 L633.9,498.1 L634.8,499.3 L635.7,500.5 L636.7,501.6 L637.6,502.8 L638.5,504.0 L639.5,505.1 L640.5,506.3 L641.4,507.4 L642.4,508.6 L643.4,509.7 L644.4,510.8 L645.4,512.0 L646.4,513.1 L647.4,514.2 L648.5,515.3 L649.5,516.4 L650.5,517.5 L651.5,518.6 L652.5,519.7 L653.6,520.8 L654.6,521.9 L655.6,523.0 L656.7,524.1 L657.7,525.2 L658.7,526.3 L659.7,527.4 L660.7,528.5 L661.8,529.6 L662.8,530.7 L663.8,531.8 L664.8,532.9 L665.8,534.1 L666.7,535.2 L667.7,536.3 L668.7,537.5 L669.7,538.6 L670.7,539.7 L671.6,540.9 L672.6,542.0 L673.6,543.2 L674.5,544.4 L675.5,545.5 L676.4,546.7 L677.4,547.8 L678.3,549.0 L679.2,550.2 L680.2,551.4 L681.1,552.5 L682.1,553.7 L683.0,554.9 L683.9,556.1 L684.8,557.2 L685.8,558.4 L686.7,559.6 L687.6,560.8 L688.5,562.0 L689.5,563.2 L690.4,564.3 L691.3,565.5 L692.2,566.7 L693.2,567.9 L694.1,569.1 L695.0,570.3 L695.9,571.5 L696.8,572.6 L697.8,573.8 L698.7,575.0 L699.6,576.2 L700.5,577.4 L701.5,578.6 L702.4,579.7 L703.3,580.9 L704.3,582.1 L705.2,583.3 L706.2,584.4 L707.1,585.6 L708.0,586.8 L709.0,587.9 L710.0,589.1 L710.9,590.2 L711.9,591.4 L712.9,592.5 L713.9,593.6 L714.9,594.8 L715.9,595.9 L716.9,597.0 L717.9,598.1 L719.0,599.2 L720.0,600.2 L721.1,601.3 L722.2,602.3 L723.3,603.4 L724.4,604.4 L725.5,605.4 L726.6,606.3 L727.8,607.3 L729.0,608.3 L730.1,609.2 L731.3,610.1 L732.6,611.0 L733.8,611.8 L735.0,612.7 L736.3,613.5 L737.6,614.3 L738.9,615.0 L740.2,615.8 L741.5,616.5 L742.8,617.2 L744.1,617.9 L745.5,618.5 L746.9,619.2 L748.2,619.8 L749.6,620.3 L751.0,620.9 L752.4,621.4 L753.9,621.9 L755.3,622.4 L756.7,622.8 L758.2,623.2 L759.6,623.6 L761.1,623.9 L762.5,624.2 L764.0,624.5 L765.5,624.8 L767.0,625.0 L768.5,625.2 L770.0,625.4 L771.5,625.5 L773.0,625.6 L774.5,625.7 L776.0,625.8 L777.5,625.9 L779.0,626.0 L780.5,626.0 L782.0,626.1 L783.5,626.1 L785.0,626.1 L786.5,626.2 L788.0,626.2 L789.5,626.2 L791.0,626.2 L792.5,626.2 L794.0,626.2 L795.5,626.2 L797.0,626.2 L798.5,626.2 L800.0,626.2 L801.5,626.2 L803.0,626.1 L804.5,626.1 L806.0,626.1 L807.5,626.0 L809.0,626.0 L810.5,625.9 L812.0,625.9 L813.5,625.8 L815.0,625.8 L816.5,625.7 L818.0,625.7 L819.5,625.6 L821.0,625.5 L822.5,625.5 L824.0,625.4 L825.5,625.3 L827.0,625.2 L828.5,625.1 L830.0,625.1 L831.5,625.0 L833.0,624.9 L834.5,624.8 L836.0,624.7 L837.5,624.6 L839.0,624.5 L840.5,624.4 L842.0,624.3 L843.5,624.1 L845.0,624.0 L846.5,623.9 L848.0,623.8 L849.5,623.7 L851.0,623.5 L852.5,623.4 L854.0,623.3 L855.5,623.2 L857.0,623.0 L858.5,622.9 L860.0,622.8 L861.4,622.6 L862.9,622.5 L864.4,622.3 L865.9,622.2 L867.4,622.1 L868.9,621.9 L870.4,621.8 L871.9,621.6 L873.4,621.5 L874.9,621.3 L876.4,621.2 L877.9,621.0 L879.4,620.8 L880.9,620.7 L882.4,620.5 L883.9,620.4 L885.4,620.2 L886.9,620.0 L888.3,619.9 L889.8,619.7 L891.3,619.6 L892.8,619.4 L894.3,619.2 L895.8,619.1 L897.3,618.9 L898.8,618.7 L900.3,618.6 L901.8,618.4 L903.3,618.2 L904.8,618.1 L906.3,617.9 L907.7,617.7 L909.2,617.5 L910.7,617.4 L912.2,617.2 L913.7,617.0 L915.2,616.9 L916.7,616.7 L918.2,616.5 L919.7,616.3 L921.2,616.2 L922.7,616.0 L924.2,615.8 L925.7,615.7 L927.1,615.5 L928.6,615.3 L930.1,615.2 L931.6,615.0 L933.1,614.8 L934.6,614.7 L936.1,614.5 L937.6,614.3 L939.1,614.2 L940.6,614.0 L942.1,613.8 L943.6,613.7 L945.1,613.5 L946.6,613.3 L948.0,613.2 L949.5,613.0 L951.0,612.9 L952.5,612.7 L954.0,612.6 L955.5,612.4 L957.0,612.2 L958.5,612.1 L960.0,611.9 L961.5,611.8 L963.0,611.6 L964.5,611.5 L966.0,611.3 L967.5,611.2 L969.0,611.0 L970.5,610.9 L972.0,610.7 L973.4,610.6 L974.9,610.4 L976.4,610.3 L977.9,610.1 L979.4,610.0 L980.9,609.8 L982.4,609.6 L983.9,609.5 L985.4,609.3 L986.9,609.2 L988.4,609.0 L989.9,608.9 L991.4,608.7 L992.9,608.6 L994.4,608.4 L995.9,608.2 L997.4,608.1 L998.8,607.9 L1000.3,607.8 L1001.8,607.6 L1003.3,607.4 L1004.8,607.3 L1006.3,607.1 L1007.8,606.9 L1009.3,606.8 L1010.8,606.6 L1012.3,606.4 L1013.8,606.3 L1015.3,606.1 L1016.8,605.9 L1018.2,605.7 L1019.7,605.5 L1021.2,605.4 L1022.7,605.2 L1024.2,605.0 L1025.7,604.8 L1027.2,604.6 L1028.7,604.4 L1030.2,604.2 L1031.7,604.0 L1033.1,603.8 L1034.6,603.6 L1036.1,603.4 L1037.6,603.2 L1039.1,603.0 L1040.6,602.8 L1042.1,602.6 L1043.6,602.4 L1045.0,602.2 L1046.5,602.0 L1048.0,601.7 L1049.5,601.5 L1051.0,601.3 L1052.5,601.1 L1054.0,600.8 L1055.4,600.6 L1056.9,600.3 L1058.4,600.1 L1059.9,599.9 L1061.4,599.6 L1062.8,599.4 L1064.3,599.1 L1065.8,598.9 L1067.3,598.6 L1068.8,598.3 L1070.2,598.1 L1071.7,597.8 L1073.2,597.5 L1074.7,597.3 L1076.2,597.0 L1077.6,596.7 L1079.1,596.5 L1080.6,596.2 L1082.1,595.9 L1083.5,595.6 L1085.0,595.4 L1086.5,595.1 L1088.0,594.8 L1089.4,594.5 L1090.9,594.2 L1092.4,594.0 L1093.9,593.7 L1095.3,593.4 L1096.8,593.1 L1098.3,592.8 L1099.8,592.5 L1101.2,592.2 L1102.7,591.9 L1104.2,591.6 L1105.7,591.3 L1107.1,591.0 L1108.6,590.7 L1110.1,590.4 L1111.5,590.2 L1113.0,589.9 L1114.5,589.6 L1116.0,589.3 L1117.4,589.0 L1118.9,588.7 L1120.4,588.4 L1121.9,588.1 L1123.3,587.8 L1124.8,587.5 L1126.3,587.2 L1127.7,586.9 L1129.2,586.6 L1130.7,586.3 L1132.2,586.0 L1133.6,585.7 L1135.1,585.4 L1136.6,585.1 L1138.1,584.8 L1139.5,584.5 L1141.0,584.2 L1142.5,583.9 L1143.9,583.6 L1145.4,583.3 L1146.9,583.1" stroke="#424242" stroke-width="2.0" stroke-dasharray="51.6 11.0 25.8 11.0 22.0 11.0 29.6 11.0 29.6 11.0 37.0 11.0 18.3 11.0 23.5 11.0 36.3 11.0 28.8 11.0 19.0 11.0 28.1 11.0 34.1 11.0 30.3 11.0 28.0 11.0 38.6 11.0 28.1 11.0 52.1 11.0 37.1 11.0 29.6 11.0 37.1 11.0 28.8 11.0 30.3 11.0 22.8 11.0 31.8 11.0 33.3 11.0 40.1 11.0 42.3 11.0 34.1 11.0 40.1 11.0 35.6 11.0 31.8 11.0 34.1 11.0 38.6 11.0 71.5 0.1"/>
<path d="M137.4,952.7 L137.9,951.3 L138.4,949.9 L138.8,948.4 L139.2,947.0 L139.7,945.5 L140.1,944.1 L140.5,942.7 L140.9,941.2 L141.3,939.8 L141.7,938.3 L142.1,936.9 L142.6,935.4 L143.0,934.0 L143.4,932.6 L143.9,931.1 L144.4,929.7 L144.9,928.3 L145.4,926.9 L146.0,925.5 L146.6,924.1 L147.3,922.8 L148.2,921.6 L149.5,920.8 L150.9,921.0 L152.0,922.0 L152.9,923.2 L154.0,924.2 L155.3,925.0 L156.7,925.5 L158.2,925.9 L159.6,926.3 L161.0,926.8 L162.4,927.5 L163.6,928.4 L164.7,929.4 L165.7,930.5 L166.7,931.6 L167.6,932.8 L168.5,934.0 L169.5,935.2 L170.4,936.3 L171.4,937.5 L172.4,938.6 L173.4,939.7 L174.5,940.7 L175.5,941.8 L176.5,943.0 L177.5,944.1 L178.6,945.1 L179.8,946.0 L181.3,946.2 L182.5,945.4 L183.5,944.3 L184.4,943.1 L185.5,942.0 L186.8,941.4 L188.3,941.9 L189.5,942.7 L190.6,943.7 L191.7,944.8 L192.8,945.8 L193.9,946.8 L195.2,947.6 L196.6,947.7 L197.8,946.8 L198.7,945.6 L199.5,944.3 L200.3,943.0 L201.2,941.9 L202.3,940.8 L203.6,940.1 L205.0,939.6 L206.5,939.4 L208.0,939.3 L209.5,939.4 L211.0,939.4 L212.5,939.5 L214.0,939.5 L215.5,939.4 L217.0,939.0 L218.3,938.4 L219.5,937.5 L220.6,936.4 L221.5,935.2 L222.2,933.9 L222.9,932.6 L223.5,931.2 L224.0,929.8 L224.4,928.3 L224.8,926.9 L225.2,925.4 L225.6,924.0 L226.3,922.7 L227.3,921.5 L228.6,920.7 L229.8,919.9 L231.1,919.0 L232.2,918.1 L233.2,917.0 L234.2,915.9 L235.1,914.7 L235.9,913.4 L236.7,912.1 L237.4,910.8 L238.0,909.4 L238.6,908.0 L239.2,906.6 L239.7,905.2 L240.2,903.8 L240.7,902.4 L241.2,901.0 L241.8,899.6 L242.3,898.2 L242.8,896.8 L243.4,895.4 L244.0,894.0 L244.6,892.7 L245.3,891.3 L246.1,890.0 L246.8,888.7 L247.6,887.4 L248.5,886.2 L249.4,885.0 L250.4,883.9 L251.5,882.8 L252.9,882.5 L254.2,883.1 L255.4,884.0 L256.6,884.9 L257.9,885.7 L259.2,886.3 L260.7,886.8 L262.1,887.2 L263.5,887.8 L264.7,888.7 L265.8,889.7 L266.7,890.9 L267.5,892.2 L268.1,893.5 L268.7,894.9 L269.2,896.4 L269.6,897.8 L269.9,899.3 L270.3,900.7 L270.6,902.2 L270.9,903.6 L271.3,905.1 L271.6,906.6 L271.9,908.1 L272.2,909.5 L272.5,911.0 L272.8,912.5 L273.1,913.9 L273.4,915.4 L273.7,916.9 L274.0,918.3 L274.3,919.8 L274.6,921.3 L274.9,922.8 L275.2,924.2 L275.4,925.7 L275.7,927.2 L276.0,928.7 L276.2,930.2 L276.5,931.6 L276.8,933.1 L277.0,934.6 L277.3,936.1 L277.5,937.6 L277.8,939.0 L278.0,940.5 L278.3,942.0 L278.5,943.5 L278.8,945.0 L279.0,946.4 L279.2,947.9 L279.5,949.4 L279.7,950.9 L279.9,952.4 L280.1,953.9 L280.4,955.3 L280.6,956.8 L280.8,958.3 L281.0,959.8 L281.2,961.3 L281.5,962.8 L281.7,964.3 L281.9,965.8 L282.1,967.2 L282.3,968.7 L282.5,970.2 L282.7,971.7 L282.9,973.2 L283.1,974.7 L283.3,976.2 L283.5,977.7 L283.7,979.1 L283.9,980.6 L284.1,982.1 L284.3,983.6 L284.5,985.1 L284.7,986.6 L284.9,988.1 L285.1,989.6 L285.3,991.1 L285.5,992.5 L285.7,994.0 L285.9,995.5 L286.1,997.0 L286.3,998.5 L286.5,1000.0 L286.7,1001.5 L286.8,1003.0 L287.0,1004.5 L287.2,1005.9 L287.4,1007.4 L287.6,1008.9 L287.8,1010.4 L288.0,1011.9 L288.2,1013.4 L288.4,1014.9 L288.6,1016.4 L288.8,1017.9 L289.0,1019.4 L289.2,1020.8 L289.4,1022.3 L289.6,1023.8 L289.7,1025.3 L289.9,1026.8 L290.1,1028.3 L290.3,1029.8 L290.5,1031.3 L290.7,1032.8 L290.9,1034.2 L291.1,1035.7 L291.3,1037.2 L291.5,1038.7 L291.7,1040.2 L291.9,1041.7 L292.1,1043.2 L292.3,1044.7 L292.5,1046.2 L292.7,1047.6 L292.9,1049.1 L293.1,1050.6 L293.4,1052.1 L293.6,1053.6 L293.8,1055.1 L294.0,1056.6 L294.2,1058.0 L294.4,1059.5 L294.6,1061.0 L294.8,1062.5 L295.1,1064.0 L295.3,1065.5 L295.5,1067.0 L295.7,1068.5 L295.9,1069.9 L296.2,1071.4 L296.4,1072.9 L296.6,1074.4 L296.9,1075.9 L297.1,1077.4 L297.3,1078.8 L297.6,1080.3 L297.8,1081.8 L298.0,1083.3 L298.3,1084.8 L298.5,1086.3 L298.8,1087.7 L299.0,1089.2 L299.3,1090.7 L299.5,1092.2 L299.8,1093.7 L300.0,1095.1 L300.3,1096.6 L300.5,1098.1 L300.8,1099.6 L301.1,1101.1 L301.3,1102.5 L301.6,1104.0 L301.9,1105.5 L302.1,1107.0 L302.4,1108.4 L302.7,1109.9 L303.0,1111.4 L303.2,1112.9 L303.5,1114.3 L303.8,1115.8 L304.1,1117.3 L304.4,1118.8 L304.7,1120.2 L305.0,1121.7 L305.3,1123.2 L305.6,1124.7 L305.9,1126.1 L306.2,1127.6 L306.5,1129.1 L306.9,1130.5 L307.2,1132.0 L307.5,1133.5 L307.8,1134.9 L308.2,1136.4 L308.5,1137.9 L308.8,1139.3 L309.2,1140.8 L309.5,1142.2 L309.9,1143.7 L310.3,1145.2 L310.6,1146.6 L311.0,1148.1 L311.4,1149.5 L311.9,1150.9 L312.3,1152.4 L312.7,1153.8 L313.2,1155.2 L313.7,1156.7 L314.2,1158.1 L314.7,1159.5 L315.3,1160.9 L315.8,1162.3 L316.4,1163.7 L317.1,1165.0 L317.7,1166.4 L318.4,1167.7 L319.0,1169.1 L319.7,1170.4 L320.4,1171.7 L321.2,1173.0 L321.9,1174.4 L322.6,1175.7 L323.3,1177.0 L324.1,1178.3 L324.9,1179.5 L325.8,1180.8 L326.7,1181.9 L327.8,1183.0 L329.0,1183.9 L330.2,1184.7 L331.6,1185.4 L333.0,1185.9 L334.5,1186.2 L335.9,1186.4 L337.4,1186.4 L338.9,1186.2 L340.4,1185.8 L341.8,1185.2 L343.1,1184.5 L344.3,1183.7 L345.6,1182.8 L346.7,1181.9 L347.9,1180.9 L349.0,1179.9 L350.1,1178.9 L351.2,1177.8 L352.2,1176.8 L353.3,1175.7 L354.3,1174.6 L355.4,1173.5 L356.4,1172.5 L357.5,1171.4 L358.5,1170.3 L359.6,1169.3 L360.7,1168.2 L361.8,1167.2 L362.9,1166.2 L364.0,1165.2 L365.2,1164.2 L366.3,1163.3 L367.5,1162.3 L368.7,1161.4 L369.8,1160.5 L371.0,1159.5 L372.2,1158.6 L373.4,1157.8 L374.7,1156.9 L375.9,1156.0 L377.1,1155.2 L378.4,1154.3 L379.6,1153.5 L380.9,1152.6 L382.1,1151.8 L383.4,1151.0 L384.7,1150.2 L386.0,1149.5 L387.2,1148.7 L388.5,1147.9 L389.8,1147.1 L391.1,1146.4 L392.4,1145.6 L393.7,1144.9 L395.0,1144.1 L396.3,1143.3 L397.6,1142.6 L398.9,1141.8 L400.2,1141.0 L401.5,1140.3 L402.7,1139.5 L404.0,1138.7 L405.3,1137.9 L406.5,1137.0 L407.8,1136.2 L409.0,1135.3 L410.2,1134.5 L411.4,1133.6 L412.6,1132.7 L413.8,1131.7 L415.0,1130.8 L416.1,1129.8 L417.2,1128.8 L418.3,1127.8 L419.4,1126.8 L420.5,1125.7 L421.5,1124.6 L422.6,1123.5 L423.6,1122.4 L424.6,1121.3 L425.5,1120.1 L426.5,1119.0 L427.4,1117.8 L428.3,1116.6 L429.2,1115.4 L430.1,1114.2 L431.0,1113.0 L431.8,1111.7 L432.7,1110.5 L433.5,1109.2 L434.3,1107.9 L435.0,1106.6 L435.8,1105.4 L436.6,1104.0 L437.3,1102.7 L438.0,1101.4 L438.7,1100.1 L439.4,1098.7 L440.0,1097.4 L440.7,1096.1 L441.3,1094.7 L442.0,1093.3 L442.6,1092.0 L443.2,1090.6 L443.8,1089.2 L444.4,1087.8 L444.9,1086.4 L445.5,1085.0 L446.0,1083.6 L446.5,1082.2 L447.1,1080.8 L447.6,1079.4 L448.1,1078.0 L448.6,1076.6 L449.0,1075.1 L449.5,1073.7 L450.0,1072.3 L450.5,1070.9 L450.9,1069.4 L451.4,1068.0 L451.8,1066.6 L452.2,1065.1 L452.7,1063.7 L453.1,1062.3 L453.5,1060.8 L454.0,1059.4 L454.4,1057.9 L454.8,1056.5 L455.2,1055.0 L455.6,1053.6 L456.0,1052.2 L456.5,1050.7 L456.9,1049.3 L457.3,1047.8 L457.7,1046.4 L458.1,1044.9 L458.5,1043.5 L458.9,1042.1 L459.4,1040.6 L459.8,1039.2 L460.2,1037.7 L460.6,1036.3 L461.0,1034.8 L461.5,1033.4 L461.9,1032.0 L462.3,1030.5 L462.7,1029.1 L463.2,1027.6 L463.6,1026.2 L464.0,1024.8 L464.4,1023.3 L464.9,1021.9 L465.3,1020.4 L465.7,1019.0 L466.2,1017.6 L466.6,1016.1 L467.0,1014.7 L467.5,1013.2 L467.9,1011.8 L468.3,1010.4 L468.8,1008.9 L469.2,1007.5 L469.6,1006.1 L470.1,1004.6 L470.5,1003.2 L471.0,1001.8 L471.4,1000.3 L471.9,998.9 L472.3,997.5 L472.8,996.0 L473.2,994.6 L473.7,993.2 L474.1,991.7 L474.6,990.3 L475.0,988.9 L475.5,987.4 L476.0,986.0 L476.4,984.6 L476.9,983.2 L477.4,981.7 L477.9,980.3 L478.4,978.9 L478.8,977.5 L479.3,976.1 L479.8,974.6 L480.3,973.2 L480.9,971.8 L481.4,970.4 L481.9,969.0 L482.4,967.6 L483.0,966.2 L483.5,964.8 L484.1,963.4 L484.6,962.0 L485.2,960.6 L485.8,959.2 L486.5,957.9 L487.3,956.6 L488.3,955.5 L489.5,954.6 L490.9,954.1 L492.4,953.9 L493.9,953.8 L495.4,953.6 L496.8,953.2 L498.2,952.6 L499.6,952.1 L501.0,951.5 L502.4,951.2 L503.9,951.2 L505.4,951.5 L506.8,952.1 L508.0,952.9 L509.3,953.8 L510.5,954.7 L511.6,955.7 L512.7,956.7 L513.9,957.6 L515.1,958.5 L516.3,959.4 L517.7,960.1 L519.1,960.5 L520.6,960.5 L522.1,960.1 L523.5,959.6 L524.9,959.2 L526.4,959.2 L527.7,959.8 L528.9,960.8 L529.9,961.9 L530.7,963.2 L531.5,964.5 L532.2,965.8 L532.9,967.1 L533.8,968.3 L534.9,969.4 L536.1,970.2 L537.5,970.9 L538.9,971.4 L540.3,971.9 L541.7,972.5 L543.0,973.2 L544.3,974.0 L545.5,974.8 L546.7,975.8 L547.8,976.8 L548.9,977.8 L549.9,978.9 L550.9,980.0 L551.9,981.1 L552.9,982.3 L553.9,983.4 L554.8,984.6 L555.8,985.8 L556.8,986.9 L557.9,987.9 L559.2,988.6 L560.7,988.9 L562.2,988.8 L563.7,988.8 L565.2,989.0 L566.5,989.7 L567.4,990.9 L568.1,992.2 L568.8,993.5 L569.5,994.9 L570.3,996.1 L571.2,997.3 L572.2,998.5 L573.2,999.6 L574.3,1000.7 L575.3,1001.7 L576.4,1002.8 L577.4,1003.9 L578.4,1005.0 L579.5,1006.1 L580.5,1007.2 L581.4,1008.4 L582.3,1009.5 L583.2,1010.8 L584.1,1012.0 L584.9,1013.2 L585.7,1014.5 L586.5,1015.8 L587.2,1017.1 L587.9,1018.4 L588.6,1019.8 L589.3,1021.1 L589.9,1022.5 L590.5,1023.8 L591.1,1025.2 L591.7,1026.6 L592.3,1028.0 L592.9,1029.4 L593.4,1030.8 L593.9,1032.2 L594.5,1033.6 L595.0,1035.0 L595.5,1036.4 L596.0,1037.8 L596.5,1039.2 L597.1,1040.6 L597.6,1042.1 L598.1,1043.5 L598.6,1044.9 L599.1,1046.3 L599.6,1047.7 L600.0,1049.1 L600.5,1050.6 L601.0,1052.0 L601.5,1053.4 L602.0,1054.8 L602.5,1056.2 L603.0,1057.7 L603.4,1059.1 L603.9,1060.5 L604.4,1061.9 L604.9,1063.4 L605.3,1064.8 L605.8,1066.2 L606.3,1067.7 L606.7,1069.1 L607.2,1070.5 L607.6,1071.9 L608.1,1073.4 L608.6,1074.8 L609.0,1076.2 L609.5,1077.7 L609.9,1079.1 L610.4,1080.5 L610.9,1081.9 L611.3,1083.4 L611.8,1084.8 L612.2,1086.2 L612.7,1087.7 L613.1,1089.1 L613.6,1090.5 L614.0,1092.0 L614.5,1093.4 L614.9,1094.8 L615.4,1096.3 L615.8,1097.7 L616.3,1099.1 L616.8,1100.6 L617.2,1102.0 L617.7,1103.4 L618.1,1104.9 L618.6,1106.3 L619.0,1107.7 L619.5,1109.1 L620.0,1110.6 L620.4,1112.0 L620.9,1113.4 L621.3,1114.9 L621.8,1116.3 L622.3,1117.7 L622.7,1119.1 L623.2,1120.6 L623.7,1122.0 L624.2,1123.4 L624.6,1124.8 L625.1,1126.3 L625.6,1127.7 L626.1,1129.1 L626.6,1130.5 L627.1,1131.9 L627.6,1133.4 L628.1,1134.8 L628.6,1136.2 L629.1,1137.6 L629.6,1139.0 L630.1,1140.4 L630.6,1141.8 L631.1,1143.3 L631.7,1144.7 L632.2,1146.1 L632.7,1147.5 L633.3,1148.9 L633.8,1150.3 L634.3,1151.7 L634.9,1153.1 L635.5,1154.5 L636.0,1155.9 L636.6,1157.3 L637.2,1158.6 L637.7,1160.0 L638.3,1161.4 L638.9,1162.8 L639.5,1164.2 L640.1,1165.5 L640.7,1166.9 L641.3,1168.3 L641.9,1169.7 L642.6,1171.0 L643.2,1172.4 L643.8,1173.7 L644.5,1175.1 L645.1,1176.5 L645.8,1177.8 L646.4,1179.2 L647.1,1180.5 L647.8,1181.8 L648.5,1183.2 L649.2,1184.5 L649.9,1185.8 L650.7,1187.1 L651.4,1188.4 L652.2,1189.7 L652.9,1191.0 L653.7,1192.3 L654.6,1193.5 L655.4,1194.8 L656.3,1196.0 L657.1,1197.2 L658.0,1198.4 L659.0,1199.6 L659.9,1200.8 L660.9,1201.9 L661.9,1203.0 L662.9,1204.2 L663.9,1205.2 L665.0,1206.3 L666.0,1207.4 L667.1,1208.5 L668.1,1209.5 L669.2,1210.6 L670.2,1211.7 L671.3,1212.8 L672.3,1213.8 L673.4,1214.9 L674.4,1216.0 L675.4,1217.1 L676.4,1218.3 L677.4,1219.4 L678.4,1220.5 L679.3,1221.7 L680.3,1222.8 L681.2,1224.0 L682.1,1225.2 L683.0,1226.4 L683.9,1227.6 L684.8,1228.8 L685.6,1230.1 L686.4,1231.3 L687.2,1232.6 L688.0,1233.9 L688.8,1235.2 L689.5,1236.5 L690.3,1237.8 L691.0,1239.1 L691.7,1240.4 L692.4,1241.8 L693.1,1243.1 L693.8,1244.4 L694.4,1245.8 L695.1,1247.1 L695.8,1248.5 L696.4,1249.9 L697.0,1251.2 L697.7,1252.6 L698.3,1253.9 L698.9,1255.3 L699.6,1256.7 L700.2,1258.0 L700.8,1259.4 L701.4,1260.8 L702.0,1262.1 L702.6,1263.5 L703.3,1264.9 L703.9,1266.3 L704.5,1267.6 L705.1,1269.0 L705.7,1270.4 L706.3,1271.8 L706.9,1273.1 L707.5,1274.5 L708.1,1275.9 L708.7,1277.3 L709.3,1278.6 L709.8,1280.0 L710.4,1281.4 L711.0,1282.8 L711.6,1284.2 L712.2,1285.6 L712.8,1286.9 L713.3,1288.3 L713.9,1289.7 L714.5,1291.1 L715.1,1292.5 L715.6,1293.9 L716.2,1295.3 L716.8,1296.7 L717.4,1298.0 L717.9,1299.4 L718.5,1300.8 L719.1,1302.2 L719.7,1303.6 L720.2,1305.0 L720.8,1306.4 L721.4,1307.8 L722.0,1309.1 L722.5,1310.5 L723.1,1311.9 L723.7,1313.3 L724.3,1314.7 L724.9,1316.0 L725.5,1317.4 L726.1,1318.8 L726.7,1320.2 L727.4,1321.5 L728.0,1322.9 L728.6,1324.3 L729.2,1325.6 L729.9,1327.0 L730.5,1328.3 L731.2,1329.7 L731.8,1331.0 L732.5,1332.4 L733.2,1333.7 L733.9,1335.1 L734.6,1336.4 L735.3,1337.7 L736.0,1339.1 L736.7,1340.4 L737.4,1341.7 L738.1,1343.0 L738.9,1344.3 L739.6,1345.6 L740.4,1346.9 L741.2,1348.2 L742.0,1349.5 L742.8,1350.7 L743.6,1352.0 L744.4,1353.3 L745.2,1354.5 L746.1,1355.8 L746.9,1357.0 L747.8,1358.2 L748.6,1359.4 L749.5,1360.7 L750.4,1361.9 L751.4,1363.0 L752.3,1364.2 L753.2,1365.4 L754.2,1366.5 L755.2,1367.7 L756.2,1368.8 L757.2,1369.9 L758.3,1371.0 L759.3,1372.0 L760.4,1373.1 L761.5,1374.1 L762.6,1375.1 L763.8,1376.1 L764.9,1377.0 L766.1,1377.9 L767.3,1378.8 L768.6,1379.7 L769.8,1380.5 L771.1,1381.3 L772.4,1382.1 L773.7,1382.8 L775.0,1383.5 L776.4,1384.1 L777.8,1384.7 L779.2,1385.3 L780.6,1385.8 L782.0,1386.3 L783.4,1386.8 L784.9,1387.2 L786.3,1387.6 L787.8,1387.9 L789.2,1388.3 L790.7,1388.5 L792.2,1388.8 L793.7,1389.0 L795.2,1389.2 L796.7,1389.4 L798.1,1389.6 L799.6,1389.7 L801.1,1389.8 L802.6,1389.8 L804.1,1389.9 L805.6,1389.9 L807.1,1389.9 L808.7,1389.9 L810.2,1389.8 L811.7,1389.7 L813.2,1389.7 L814.6,1389.6 L816.1,1389.4 L817.6,1389.3 L819.1,1389.1 L820.6,1389.0 L822.1,1388.8 L823.6,1388.6 L825.1,1388.4 L826.6,1388.2 L828.1,1387.9 L829.6,1387.7 L831.0,1387.5 L832.5,1387.2 L834.0,1387.0 L835.5,1386.7 L837.0,1386.4 L838.4,1386.2 L839.9,1385.9 L841.4,1385.6 L842.9,1385.3 L844.3,1385.0 L845.8,1384.7 L847.3,1384.4 L848.7,1384.1 L850.2,1383.8 L851.7,1383.5 L853.2,1383.2 L854.6,1382.9 L856.1,1382.6 L857.6,1382.3 L859.0,1381.9 L860.5,1381.6 L862.0,1381.3 L863.4,1380.9 L864.9,1380.6 L866.3,1380.3 L867.8,1379.9 L869.3,1379.6 L870.7,1379.2 L872.2,1378.9 L873.6,1378.5 L875.1,1378.1 L876.6,1377.8 L878.0,1377.4 L879.5,1377.0 L880.9,1376.7 L882.4,1376.3 L883.8,1375.9 L885.3,1375.6 L886.7,1375.2 L888.2,1374.8 L889.6,1374.4 L891.1,1374.0 L892.6,1373.6 L894.0,1373.2 L895.5,1372.8 L896.9,1372.5 L898.3,1372.1 L899.8,1371.7 L901.2,1371.3 L902.7,1370.8 L904.1,1370.4 L905.6,1370.0 L907.0,1369.6 L908.5,1369.2 L909.9,1368.8 L911.4,1368.4 L912.8,1368.0 L914.2,1367.5 L915.7,1367.1 L917.1,1366.7 L918.6,1366.3 L920.0,1365.8 L921.4,1365.4 L922.9,1365.0 L924.3,1364.5 L925.8,1364.1 L927.2,1363.7 L928.6,1363.2 L930.1,1362.8 L931.5,1362.3 L932.9,1361.9 L934.4,1361.4 L935.8,1361.0 L937.2,1360.5 L938.7,1360.1 L940.1,1359.6 L941.5,1359.2 L943.0,1358.7 L944.4,1358.3 L945.8,1357.8 L947.2,1357.3 L948.7,1356.9 L950.1,1356.4 L951.5,1356.0 L953.0,1355.5 L954.4,1355.0 L955.8,1354.5 L957.2,1354.1 L958.7,1353.6 L960.1,1353.1 L961.5,1352.7 L962.9,1352.2 L964.4,1351.7 L965.8,1351.2 L967.2,1350.7 L968.6,1350.3 L970.0,1349.8 L971.5,1349.3 L972.9,1348.8 L974.3,1348.3 L975.7,1347.8 L977.2,1347.3 L978.6,1346.9 L980.0,1346.4 L981.4,1345.9 L982.8,1345.4 L984.3,1344.9 L985.7,1344.4 L987.1,1343.9 L988.5,1343.4 L989.9,1342.9 L991.3,1342.4 L992.8,1341.9 L994.2,1341.4 L995.6,1340.9 L997.0,1340.4 L998.4,1339.9 L999.8,1339.4 L1001.3,1338.9 L1002.7,1338.4 L1004.1,1337.9 L1005.5,1337.4 L1006.9,1336.9 L1008.3,1336.4 L1009.7,1335.9 L1011.2,1335.4 L1012.6,1334.9 L1014.0,1334.4 L1015.4,1333.8 L1016.8,1333.3 L1018.2,1332.8 L1019.6,1332.3 L1021.0,1331.8 L1022.5,1331.3 L1023.9,1330.8 L1025.3,1330.3 L1026.7,1329.8 L1028.1,1329.2 L1029.5,1328.7 L1030.9,1328.2 L1032.3,1327.7 L1033.7,1327.2 L1035.2,1326.7 L1036.6,1326.1 L1038.0,1325.6 L1039.4,1325.1 L1040.8,1324.6 L1042.2,1324.1 L1043.6,1323.5 L1045.0,1323.0 L1046.4,1322.5 L1047.8,1322.0 L1049.2,1321.4 L1050.6,1320.9 L1052.0,1320.4 L1053.4,1319.8 L1054.8,1319.3 L1056.2,1318.7 L1057.6,1318.2 L1059.0,1317.7 L1060.4,1317.1 L1061.8,1316.6 L1063.2,1316.0 L1064.6,1315.5 L1066.0,1314.9 L1067.4,1314.4 L1068.8,1313.8 L1070.2,1313.3 L1071.6,1312.7 L1073.0,1312.1 L1074.4,1311.6 L1075.8,1311.0 L1077.2,1310.4 L1078.6,1309.9 L1080.0,1309.3 L1081.3,1308.7 L1082.7,1308.1 L1084.1,1307.6 L1085.5,1307.0 L1086.9,1306.4 L1088.3,1305.8 L1089.6,1305.2 L1091.0,1304.6 L1092.4,1304.0 L1093.8,1303.4 L1095.2,1302.8 L1096.5,1302.2 L1097.9,1301.6 L1099.3,1301.0 L1100.6,1300.4 L1102.0,1299.7 L1103.4,1299.1 L1104.7,1298.5 L1106.1,1297.8 L1107.5,1297.2 L1108.8,1296.6 L1110.2,1295.9 L1111.5,1295.3 L1112.9,1294.6 L1114.2,1293.9 L1115.6,1293.3 L1116.9,1292.6 L1118.3,1291.9 L1119.6,1291.3 L1120.9,1290.6 L1122.3,1289.9 L1123.6,1289.2 L1124.9,1288.5 L1126.2,1287.8 L1127.6,1287.1 L1128.9,1286.4 L1130.2,1285.6 L1131.5,1284.9 L1132.8,1284.2 L1134.1,1283.4 L1135.4,1282.7 L1136.8,1281.9 L1138.1,1281.2 L1139.4,1280.6 L1140.8,1279.9 L1142.2,1279.4 L1143.6,1278.9 L1145.0,1278.5 L1146.5,1278.2 L1148.0,1278.0" stroke="#3a3a3a" stroke-width="1.1"/>
<path d="M137.4,896.0 L138.1,894.7 L138.5,893.2 L138.8,891.8 L139.2,890.3 L139.6,888.8 L140.1,887.4 L140.9,886.2 L142.2,885.5 L143.7,885.6 L145.0,886.3 L146.1,887.4 L146.7,888.7 L147.1,890.1 L147.4,891.6 L147.7,893.1 L148.1,894.5 L148.5,896.0 L148.8,897.5 L149.3,898.9 L149.7,900.3 L150.1,901.8 L150.6,903.2 L151.1,904.6 L151.6,906.0 L152.1,907.4 L152.7,908.8 L153.2,910.2 L153.8,911.6 L154.3,913.0 L154.9,914.4 L155.5,915.8 L156.0,917.2 L156.6,918.6 L157.2,920.0 L157.8,921.4 L158.3,922.7 L158.9,924.1 L159.5,925.5 L160.0,926.9 L160.6,928.3 L161.1,929.7 L161.7,931.1 L162.2,932.5 L162.7,933.9 L163.2,935.4 L163.7,936.8 L164.2,938.2 L164.8,939.6 L165.3,941.0 L165.8,942.4 L166.3,943.8 L166.8,945.2 L167.3,946.7 L167.8,948.1 L168.4,949.5 L168.9,950.9 L169.4,952.3 L170.0,953.7 L170.5,955.1 L171.1,956.5 L171.7,957.8 L172.3,959.2 L172.9,960.6 L173.5,961.9 L174.2,963.3 L174.9,964.7 L175.5,966.0 L176.2,967.3 L177.0,968.6 L177.7,969.9 L178.5,971.2 L179.3,972.5 L180.1,973.7 L181.0,975.0 L181.9,976.2 L182.8,977.4 L183.8,978.5 L184.8,979.7 L185.8,980.7 L186.9,981.8 L188.1,982.7 L189.3,983.5 L190.7,984.1 L192.1,984.5 L193.6,984.6 L195.1,984.5 L196.6,984.1 L198.0,983.6 L199.4,983.0 L200.7,982.3 L201.9,981.5 L203.2,980.6 L204.4,979.7 L205.5,978.8 L206.7,977.8 L207.8,976.7 L208.8,975.7 L209.8,974.6 L210.8,973.4 L211.8,972.3 L212.7,971.1 L213.6,969.9 L214.4,968.6 L215.3,967.4 L216.1,966.1 L216.9,964.8 L217.6,963.5 L218.4,962.2 L219.1,960.9 L219.9,959.6 L220.6,958.3 L221.3,957.0 L222.0,955.7 L222.7,954.4 L223.5,953.0 L224.2,951.7 L224.9,950.4 L225.7,949.1 L226.4,947.8 L227.2,946.5 L227.9,945.2 L228.7,943.9 L229.5,942.7 L230.4,941.4 L231.2,940.2 L232.1,938.9 L232.9,937.7 L233.8,936.5 L234.8,935.3 L235.7,934.2 L236.7,933.0 L237.7,931.9 L238.7,930.8 L239.7,929.7 L240.7,928.5 L241.6,927.3 L242.4,926.1 L243.2,924.8 L244.0,923.5 L244.7,922.2 L245.6,921.0 L246.7,920.0 L248.1,919.5 L249.6,919.7 L251.0,920.1 L252.4,920.7 L253.7,921.5 L254.9,922.3 L256.1,923.2 L257.3,924.2 L258.4,925.2 L259.4,926.3 L260.4,927.4 L261.3,928.6 L262.2,929.9 L262.9,931.2 L263.7,932.5 L264.3,933.8 L265.0,935.2 L265.5,936.6 L266.1,938.0 L266.5,939.4 L267.0,940.8 L267.4,942.3 L267.8,943.7 L268.1,945.2 L268.5,946.7 L268.8,948.1 L269.1,949.6 L269.3,951.1 L269.6,952.6 L269.9,954.0 L270.1,955.5 L270.4,957.0 L270.6,958.5 L270.9,960.0 L271.2,961.4 L271.4,962.9 L271.7,964.4 L271.9,965.9 L272.2,967.4 L272.4,968.8 L272.7,970.3 L273.0,971.8 L273.2,973.3 L273.5,974.8 L273.7,976.2 L274.0,977.7 L274.2,979.2 L274.5,980.7 L274.7,982.2 L275.0,983.6 L275.2,985.1 L275.4,986.6 L275.7,988.1 L275.9,989.6 L276.2,991.1 L276.4,992.5 L276.7,994.0 L276.9,995.5 L277.1,997.0 L277.4,998.5 L277.6,1000.0 L277.9,1001.4 L278.1,1002.9 L278.3,1004.4 L278.6,1005.9 L278.8,1007.4 L279.0,1008.9 L279.2,1010.3 L279.5,1011.8 L279.7,1013.3 L279.9,1014.8 L280.2,1016.3 L280.4,1017.8 L280.6,1019.2 L280.8,1020.7 L281.0,1022.2 L281.3,1023.7 L281.5,1025.2 L281.7,1026.7 L281.9,1028.2 L282.1,1029.7 L282.4,1031.1 L282.6,1032.6 L282.8,1034.1 L283.0,1035.6 L283.2,1037.1 L283.4,1038.6 L283.7,1040.1 L283.9,1041.5 L284.1,1043.0 L284.3,1044.5 L284.5,1046.0 L284.7,1047.5 L284.9,1049.0 L285.1,1050.5 L285.4,1052.0 L285.6,1053.4 L285.8,1054.9 L286.0,1056.4 L286.2,1057.9 L286.4,1059.4 L286.6,1060.9 L286.8,1062.4 L287.1,1063.8 L287.3,1065.3 L287.5,1066.8 L287.7,1068.3 L287.9,1069.8 L288.1,1071.3 L288.3,1072.8 L288.6,1074.3 L288.8,1075.7 L289.0,1077.2 L289.2,1078.7 L289.4,1080.2 L289.6,1081.7 L289.9,1083.2 L290.1,1084.7 L290.3,1086.1 L290.5,1087.6 L290.7,1089.1 L291.0,1090.6 L291.2,1092.1 L291.4,1093.6 L291.6,1095.1 L291.8,1096.5 L292.1,1098.0 L292.3,1099.5 L292.5,1101.0 L292.8,1102.5 L293.0,1104.0 L293.2,1105.5 L293.5,1106.9 L293.7,1108.4 L293.9,1109.9 L294.2,1111.4 L294.4,1112.9 L294.6,1114.4 L294.9,1115.8 L295.1,1117.3 L295.4,1118.8 L295.6,1120.3 L295.9,1121.8 L296.1,1123.2 L296.3,1124.7 L296.6,1126.2 L296.9,1127.7 L297.1,1129.2 L297.4,1130.6 L297.6,1132.1 L297.9,1133.6 L298.1,1135.1 L298.4,1136.6 L298.7,1138.0 L298.9,1139.5 L299.2,1141.0 L299.5,1142.5 L299.8,1144.0 L300.0,1145.4 L300.3,1146.9 L300.6,1148.4 L300.9,1149.9 L301.2,1151.3 L301.4,1152.8 L301.7,1154.3 L302.0,1155.8 L302.3,1157.2 L302.6,1158.7 L302.9,1160.2 L303.2,1161.6 L303.6,1163.1 L303.9,1164.6 L304.2,1166.0 L304.5,1167.5 L304.9,1169.0 L305.2,1170.4 L305.6,1171.9 L305.9,1173.4 L306.3,1174.8 L306.7,1176.3 L307.1,1177.7 L307.4,1179.2 L307.8,1180.6 L308.3,1182.1 L308.7,1183.5 L309.1,1184.9 L309.5,1186.4 L310.0,1187.8 L310.4,1189.2 L310.9,1190.7 L311.4,1192.1 L311.9,1193.5 L312.4,1194.9 L312.9,1196.3 L313.4,1197.7 L314.0,1199.2 L314.5,1200.5 L315.1,1201.9 L315.6,1203.3 L316.2,1204.7 L316.8,1206.1 L317.4,1207.5 L318.1,1208.8 L318.7,1210.2 L319.4,1211.5 L320.0,1212.9 L320.7,1214.2 L321.4,1215.5 L322.2,1216.8 L323.0,1218.1 L323.9,1219.3 L324.9,1220.4 L325.9,1221.5 L327.1,1222.5 L328.3,1223.3 L329.7,1224.0 L331.1,1224.5 L332.5,1224.9 L334.0,1225.1 L335.5,1225.1 L337.0,1225.1 L338.5,1224.9 L340.0,1224.6 L341.4,1224.2 L342.9,1223.7 L344.2,1223.2 L345.6,1222.5 L346.9,1221.7 L348.1,1220.9 L349.4,1220.0 L350.5,1219.1 L351.7,1218.1 L352.8,1217.1 L353.9,1216.1 L354.9,1215.0 L356.0,1213.9 L357.1,1212.9 L358.1,1211.8 L359.2,1210.8 L360.3,1209.8 L361.4,1208.8 L362.6,1207.8 L363.8,1206.9 L365.0,1206.0 L366.3,1205.2 L367.6,1204.5 L368.9,1203.8 L370.3,1203.1 L371.6,1202.5 L373.0,1201.8 L374.3,1201.2 L375.7,1200.5 L377.0,1199.9 L378.4,1199.2 L379.7,1198.5 L381.0,1197.7 L382.3,1197.0 L383.6,1196.2 L384.9,1195.4 L386.2,1194.7 L387.4,1193.9 L388.7,1193.1 L390.0,1192.3 L391.2,1191.5 L392.5,1190.6 L393.8,1189.9 L395.1,1189.1 L396.3,1188.3 L397.6,1187.5 L398.9,1186.7 L400.2,1185.9 L401.5,1185.1 L402.7,1184.4 L404.0,1183.6 L405.3,1182.8 L406.6,1182.0 L407.9,1181.2 L409.1,1180.4 L410.4,1179.6 L411.6,1178.7 L412.9,1177.9 L414.1,1177.1 L415.4,1176.2 L416.6,1175.3 L417.8,1174.4 L419.0,1173.5 L420.2,1172.6 L421.4,1171.7 L422.5,1170.7 L423.6,1169.7 L424.8,1168.7 L425.9,1167.7 L426.9,1166.7 L428.0,1165.6 L429.0,1164.5 L430.0,1163.4 L431.0,1162.2 L431.9,1161.1 L432.9,1159.9 L433.8,1158.7 L434.6,1157.5 L435.5,1156.2 L436.3,1155.0 L437.1,1153.7 L437.9,1152.4 L438.7,1151.1 L439.4,1149.8 L440.2,1148.5 L440.9,1147.2 L441.6,1145.9 L442.2,1144.5 L442.9,1143.2 L443.5,1141.8 L444.2,1140.4 L444.8,1139.1 L445.4,1137.7 L446.0,1136.3 L446.5,1134.9 L447.1,1133.5 L447.6,1132.1 L448.2,1130.7 L448.7,1129.3 L449.3,1127.9 L449.8,1126.5 L450.3,1125.1 L450.8,1123.7 L451.3,1122.3 L451.8,1120.9 L452.3,1119.4 L452.8,1118.0 L453.3,1116.6 L453.8,1115.2 L454.3,1113.8 L454.8,1112.4 L455.3,1110.9 L455.8,1109.5 L456.3,1108.1 L456.8,1106.7 L457.3,1105.3 L457.8,1103.9 L458.3,1102.4 L458.8,1101.0 L459.3,1099.6 L459.8,1098.2 L460.3,1096.8 L460.8,1095.4 L461.3,1093.9 L461.8,1092.5 L462.3,1091.1 L462.8,1089.7 L463.3,1088.3 L463.8,1086.8 L464.2,1085.4 L464.7,1084.0 L465.2,1082.6 L465.7,1081.2 L466.2,1079.7 L466.7,1078.3 L467.1,1076.9 L467.6,1075.5 L468.1,1074.0 L468.6,1072.6 L469.0,1071.2 L469.5,1069.8 L469.9,1068.3 L470.4,1066.9 L470.9,1065.5 L471.3,1064.0 L471.7,1062.6 L472.2,1061.2 L472.6,1059.7 L473.0,1058.3 L473.5,1056.8 L473.9,1055.4 L474.3,1054.0 L474.7,1052.5 L475.2,1051.1 L475.6,1049.6 L476.0,1048.2 L476.5,1046.8 L476.9,1045.3 L477.4,1043.9 L477.9,1042.5 L478.4,1041.1 L478.9,1039.6 L479.4,1038.2 L479.9,1036.8 L480.4,1035.4 L481.0,1034.0 L481.5,1032.6 L482.1,1031.2 L482.7,1029.9 L483.4,1028.5 L484.0,1027.2 L484.7,1025.8 L485.4,1024.5 L486.1,1023.2 L486.9,1021.9 L487.7,1020.6 L488.6,1019.4 L489.5,1018.2 L490.5,1017.1 L491.6,1016.0 L492.7,1015.1 L493.9,1014.2 L495.2,1013.4 L496.6,1012.7 L498.0,1012.2 L499.4,1011.7 L500.9,1011.5 L502.4,1011.3 L503.9,1011.3 L505.4,1011.4 L506.8,1011.6 L508.3,1012.0 L509.7,1012.4 L511.1,1013.0 L512.5,1013.7 L513.8,1014.4 L515.1,1015.1 L516.4,1015.9 L517.6,1016.7 L518.9,1017.6 L520.1,1018.4 L521.4,1019.2 L522.7,1020.0 L524.0,1020.8 L525.3,1021.5 L526.6,1022.3 L527.8,1023.1 L529.1,1023.8 L530.4,1024.6 L531.8,1025.3 L533.1,1026.0 L534.4,1026.8 L535.7,1027.5 L537.0,1028.3 L538.3,1029.0 L539.6,1029.8 L540.9,1030.5 L542.2,1031.3 L543.5,1032.0 L544.8,1032.8 L546.1,1033.6 L547.3,1034.3 L548.6,1035.1 L549.9,1035.9 L551.1,1036.8 L552.4,1037.6 L553.6,1038.4 L554.9,1039.3 L556.1,1040.2 L557.3,1041.1 L558.5,1042.0 L559.7,1042.9 L560.8,1043.9 L562.0,1044.8 L563.1,1045.8 L564.2,1046.8 L565.3,1047.9 L566.4,1048.9 L567.4,1050.0 L568.5,1051.1 L569.5,1052.2 L570.5,1053.3 L571.5,1054.4 L572.5,1055.6 L573.4,1056.7 L574.4,1057.9 L575.3,1059.1 L576.2,1060.3 L577.1,1061.5 L578.0,1062.7 L578.9,1063.9 L579.7,1065.1 L580.6,1066.4 L581.4,1067.6 L582.2,1068.9 L583.0,1070.2 L583.8,1071.4 L584.6,1072.7 L585.3,1074.0 L586.1,1075.3 L586.8,1076.6 L587.6,1077.9 L588.3,1079.3 L589.0,1080.6 L589.7,1081.9 L590.4,1083.2 L591.1,1084.6 L591.8,1085.9 L592.4,1087.3 L593.1,1088.6 L593.7,1090.0 L594.4,1091.3 L595.0,1092.7 L595.6,1094.1 L596.2,1095.4 L596.9,1096.8 L597.5,1098.2 L598.1,1099.6 L598.6,1100.9 L599.2,1102.3 L599.8,1103.7 L600.4,1105.1 L600.9,1106.5 L601.5,1107.9 L602.1,1109.3 L602.6,1110.7 L603.1,1112.1 L603.7,1113.5 L604.2,1114.9 L604.7,1116.3 L605.3,1117.7 L605.8,1119.1 L606.3,1120.5 L606.8,1121.9 L607.3,1123.3 L607.8,1124.8 L608.3,1126.2 L608.8,1127.6 L609.3,1129.0 L609.8,1130.4 L610.3,1131.8 L610.8,1133.3 L611.3,1134.7 L611.8,1136.1 L612.3,1137.5 L612.8,1138.9 L613.2,1140.4 L613.7,1141.8 L614.2,1143.2 L614.7,1144.6 L615.2,1146.1 L615.7,1147.5 L616.1,1148.9 L616.6,1150.3 L617.1,1151.7 L617.6,1153.2 L618.1,1154.6 L618.6,1156.0 L619.0,1157.4 L619.5,1158.9 L620.0,1160.3 L620.5,1161.7 L621.0,1163.1 L621.5,1164.5 L622.0,1165.9 L622.5,1167.4 L623.0,1168.8 L623.6,1170.2 L624.1,1171.6 L624.6,1173.0 L625.1,1174.4 L625.6,1175.8 L626.2,1177.2 L626.7,1178.6 L627.3,1180.0 L627.8,1181.4 L628.4,1182.8 L628.9,1184.2 L629.5,1185.6 L630.1,1187.0 L630.7,1188.4 L631.2,1189.8 L631.8,1191.1 L632.4,1192.5 L633.0,1193.9 L633.6,1195.3 L634.3,1196.6 L634.9,1198.0 L635.5,1199.3 L636.2,1200.7 L636.8,1202.1 L637.5,1203.4 L638.2,1204.7 L638.8,1206.1 L639.5,1207.4 L640.2,1208.8 L640.9,1210.1 L641.7,1211.4 L642.4,1212.7 L643.1,1214.0 L643.9,1215.3 L644.6,1216.6 L645.4,1217.9 L646.2,1219.2 L646.9,1220.5 L647.7,1221.8 L648.5,1223.0 L649.4,1224.3 L650.2,1225.5 L651.0,1226.8 L651.9,1228.0 L652.8,1229.2 L653.7,1230.4 L654.6,1231.6 L655.5,1232.8 L656.5,1234.0 L657.5,1235.1 L658.5,1236.2 L659.5,1237.3 L660.6,1238.3 L661.7,1239.4 L662.8,1240.4 L663.9,1241.3 L665.1,1242.3 L666.3,1243.2 L667.5,1244.2 L668.6,1245.1 L669.8,1246.1 L671.0,1247.0 L672.1,1248.0 L673.2,1249.0 L674.4,1250.0 L675.5,1251.0 L676.6,1252.0 L677.7,1253.0 L678.7,1254.1 L679.8,1255.2 L680.8,1256.3 L681.8,1257.4 L682.8,1258.5 L683.8,1259.6 L684.8,1260.7 L685.8,1261.9 L686.7,1263.0 L687.7,1264.2 L688.6,1265.4 L689.5,1266.6 L690.4,1267.8 L691.2,1269.1 L692.1,1270.3 L693.0,1271.5 L693.8,1272.8 L694.6,1274.0 L695.4,1275.3 L696.2,1276.6 L697.0,1277.8 L697.8,1279.1 L698.6,1280.4 L699.3,1281.7 L700.1,1283.0 L700.8,1284.3 L701.6,1285.6 L702.3,1286.9 L703.0,1288.2 L703.8,1289.5 L704.5,1290.9 L705.2,1292.2 L705.9,1293.5 L706.6,1294.8 L707.3,1296.2 L708.0,1297.5 L708.7,1298.8 L709.4,1300.2 L710.1,1301.5 L710.8,1302.8 L711.5,1304.2 L712.2,1305.5 L712.9,1306.8 L713.5,1308.2 L714.2,1309.5 L714.9,1310.8 L715.6,1312.2 L716.3,1313.5 L717.0,1314.8 L717.7,1316.2 L718.4,1317.5 L719.1,1318.8 L719.7,1320.2 L720.4,1321.5 L721.1,1322.8 L721.8,1324.2 L722.5,1325.5 L723.2,1326.8 L723.9,1328.2 L724.6,1329.5 L725.3,1330.8 L726.1,1332.1 L726.8,1333.5 L727.5,1334.8 L728.2,1336.1 L729.0,1337.4 L729.7,1338.7 L730.4,1340.0 L731.2,1341.3 L731.9,1342.6 L732.7,1343.9 L733.4,1345.2 L734.2,1346.5 L734.9,1347.8 L735.7,1349.1 L736.5,1350.4 L737.3,1351.7 L738.1,1352.9 L738.9,1354.2 L739.7,1355.5 L740.5,1356.7 L741.3,1358.0 L742.1,1359.3 L743.0,1360.5 L743.8,1361.8 L744.6,1363.0 L745.5,1364.2 L746.4,1365.5 L747.3,1366.7 L748.1,1367.9 L749.1,1369.1 L750.0,1370.3 L750.9,1371.4 L751.9,1372.6 L752.9,1373.7 L753.9,1374.8 L754.9,1375.9 L756.0,1377.0 L757.1,1378.0 L758.2,1379.0 L759.3,1380.0 L760.5,1380.9 L761.7,1381.8 L762.9,1382.7 L764.2,1383.5 L765.5,1384.3 L766.8,1385.0 L768.1,1385.7 L769.5,1386.4 L770.8,1387.0 L772.2,1387.6 L773.6,1388.2 L775.0,1388.7 L776.4,1389.3 L777.8,1389.7 L779.3,1390.2 L780.7,1390.6 L782.2,1391.0 L783.6,1391.4 L785.1,1391.7 L786.5,1392.1 L788.0,1392.4 L789.5,1392.7 L791.0,1392.9 L792.4,1393.2 L793.9,1393.4 L795.4,1393.6 L796.9,1393.7 L798.4,1393.9 L799.9,1394.0 L801.4,1394.1 L802.9,1394.2 L804.4,1394.3 L805.9,1394.4 L807.4,1394.4 L808.9,1394.4 L810.4,1394.4 L811.9,1394.4 L813.4,1394.4 L814.9,1394.3 L816.4,1394.3 L817.9,1394.2 L819.4,1394.1 L820.9,1394.0 L822.4,1393.9 L823.9,1393.8 L825.4,1393.7 L826.9,1393.5 L828.4,1393.4 L829.9,1393.2 L831.4,1393.0 L832.9,1392.8 L834.4,1392.6 L835.8,1392.4 L837.3,1392.2 L838.8,1392.0 L840.3,1391.8 L841.8,1391.5 L843.3,1391.3 L844.7,1391.1 L846.2,1390.8 L847.7,1390.6 L849.2,1390.3 L850.7,1390.0 L852.1,1389.8 L853.6,1389.5 L855.1,1389.2 L856.6,1389.0 L858.1,1388.7 L859.5,1388.4 L861.0,1388.1 L862.5,1387.8 L864.0,1387.5 L865.4,1387.2 L866.9,1386.9 L868.4,1386.7 L869.8,1386.3 L871.3,1386.0 L872.8,1385.7 L874.3,1385.4 L875.7,1385.1 L877.2,1384.8 L878.7,1384.5 L880.1,1384.2 L881.6,1383.9 L883.1,1383.5 L884.5,1383.2 L886.0,1382.9 L887.5,1382.5 L888.9,1382.2 L890.4,1381.9 L891.9,1381.5 L893.3,1381.2 L894.8,1380.9 L896.2,1380.5 L897.7,1380.2 L899.2,1379.8 L900.6,1379.5 L902.1,1379.2 L903.6,1378.8 L905.0,1378.5 L906.5,1378.1 L907.9,1377.8 L909.4,1377.4 L910.9,1377.0 L912.3,1376.7 L913.8,1376.3 L915.2,1376.0 L916.7,1375.6 L918.2,1375.3 L919.6,1374.9 L921.1,1374.5 L922.5,1374.2 L924.0,1373.8 L925.4,1373.4 L926.9,1373.1 L928.4,1372.7 L929.8,1372.3 L931.3,1372.0 L932.7,1371.6 L934.2,1371.2 L935.6,1370.9 L937.1,1370.5 L938.5,1370.1 L940.0,1369.7 L941.5,1369.4 L942.9,1369.0 L944.4,1368.6 L945.8,1368.2 L947.3,1367.9 L948.7,1367.5 L950.2,1367.1 L951.6,1366.7 L953.1,1366.3 L954.5,1366.0 L956.0,1365.6 L957.4,1365.2 L958.9,1364.8 L960.3,1364.4 L961.8,1364.0 L963.2,1363.6 L964.7,1363.2 L966.1,1362.8 L967.6,1362.4 L969.0,1362.0 L970.5,1361.7 L971.9,1361.3 L973.4,1360.9 L974.8,1360.5 L976.3,1360.1 L977.7,1359.7 L979.2,1359.3 L980.6,1358.8 L982.1,1358.4 L983.5,1358.0 L985.0,1357.6 L986.4,1357.2 L987.9,1356.8 L989.3,1356.4 L990.7,1356.0 L992.2,1355.6 L993.6,1355.2 L995.1,1354.8 L996.5,1354.3 L998.0,1353.9 L999.4,1353.5 L1000.8,1353.1 L1002.3,1352.7 L1003.7,1352.2 L1005.2,1351.8 L1006.6,1351.4 L1008.1,1351.0 L1009.5,1350.5 L1010.9,1350.1 L1012.4,1349.7 L1013.8,1349.3 L1015.2,1348.8 L1016.7,1348.4 L1018.1,1348.0 L1019.6,1347.5 L1021.0,1347.1 L1022.4,1346.6 L1023.9,1346.2 L1025.3,1345.8 L1026.7,1345.3 L1028.2,1344.9 L1029.6,1344.4 L1031.1,1344.0 L1032.5,1343.6 L1033.9,1343.1 L1035.4,1342.7 L1036.8,1342.2 L1038.2,1341.8 L1039.7,1341.3 L1041.1,1340.9 L1042.5,1340.4 L1044.0,1340.0 L1045.4,1339.5 L1046.8,1339.0 L1048.2,1338.6 L1049.7,1338.1 L1051.1,1337.7 L1052.5,1337.2 L1054.0,1336.7 L1055.4,1336.3 L1056.8,1335.8 L1058.2,1335.3 L1059.7,1334.9 L1061.1,1334.4 L1062.5,1333.9 L1063.9,1333.4 L1065.4,1333.0 L1066.8,1332.5 L1068.2,1332.0 L1069.6,1331.5 L1071.1,1331.1 L1072.5,1330.6 L1073.9,1330.1 L1075.3,1329.6 L1076.8,1329.1 L1078.2,1328.7 L1079.6,1328.2 L1081.0,1327.7 L1082.4,1327.2 L1083.9,1326.7 L1085.3,1326.2 L1086.7,1325.7 L1088.1,1325.2 L1089.5,1324.7 L1091.0,1324.2 L1092.4,1323.8 L1093.8,1323.3 L1095.2,1322.8 L1096.6,1322.3 L1098.1,1321.8 L1099.5,1321.3 L1100.9,1320.8 L1102.3,1320.3 L1103.7,1319.8 L1105.1,1319.3 L1106.5,1318.7 L1108.0,1318.2 L1109.4,1317.7 L1110.8,1317.2 L1112.2,1316.7 L1113.6,1316.2 L1115.0,1315.7 L1116.4,1315.1 L1117.8,1314.6 L1119.2,1314.0 L1120.6,1313.5 L1122.0,1312.9 L1123.3,1312.2 L1124.7,1311.6 L1126.0,1310.9 L1127.4,1310.2 L1128.7,1309.5 L1130.0,1308.7 L1131.3,1308.0 L1132.6,1307.2 L1133.9,1306.5 L1135.2,1305.8 L1136.6,1305.1 L1137.9,1304.4 L1139.3,1303.8 L1140.7,1303.3 L1142.1,1302.8 L1143.5,1302.4 L1145.0,1302.1 L1146.5,1301.9 L1148.0,1301.8" stroke="#424242" stroke-width="2.0" stroke-dasharray="29.0 7.9 22.9 7.9 28.2 7.9 34.1 7.9 26.6 7.9 32.6 7.9 31.1 7.9 31.9 7.9 30.4 7.9 31.2 7.9 30.4 7.9 31.9 7.9 37.4 4.5 34.4 7.9 31.1 7.9 34.2 7.9 34.2 7.9 32.7 7.9 29.7 7.9 29.7 7.9 37.2 7.9 31.1 7.9 31.3 3.0 31.3 7.9 32.7 7.9 31.2 7.9 37.9 7.9 37.2 7.9 35.7 7.9 36.4 7.9 31.9 7.9 35.7 7.9 36.4 7.9 34.2 7.9 46.2 7.9 41.7 7.9 38.7 7.9 43.2 7.9 38.7 7.9 34.2 7.9 94.9 0.1"/>
<path d="M1146.9,549.4 L1147.8,552.0 L1148.6,569.0 L1150.0,603.0 L1151.2,620.0 L1151.9,636.0 M1148.0,1278.0 L1148.7,1303.4 L1150.0,1343.4 L1152.0,1396.7 L1152.7,1416.7" stroke="#3a3a3a" stroke-width="1.1"/>
<path d="M1146.9,583.1 L1147.8,584.3 L1149.5,603.0 L1151.2,620.0 L1151.8,636.0 M1148.0,1301.8 L1149.4,1319.4 L1151.4,1356.7 L1153.4,1416.7" stroke="#3a3a3a" stroke-width="1.6"/>
</g>
<!-- structures -->
<g fill="none" stroke="#878787" stroke-width="1.2">
<path d="M841.80,327.00 L874.58,345.93 M874.58,345.93 L874.58,383.78 M874.58,383.78 L841.80,402.70 M841.80,402.70 L809.02,383.78 M809.02,383.78 L809.02,345.93 M809.02,345.93 L841.80,327.00 M907.20,327.00 L939.98,345.93 M939.98,345.93 L939.98,383.78 M939.98,383.78 L907.20,402.70 M907.20,402.70 L874.42,383.78 M874.42,383.78 L874.42,345.93 M874.42,345.93 L907.20,327.00 M972.60,327.00 L1005.38,345.93 M1005.38,345.93 L1005.38,383.78 M1005.38,383.78 L972.60,402.70 M972.60,402.70 L939.82,383.78 M939.82,383.78 L939.82,345.93 M939.82,345.93 L972.60,327.00 M815.24,349.49 L841.78,334.17 M841.78,395.53 L815.24,380.21 M868.38,349.53 L868.38,380.18 M933.78,349.53 L933.78,380.18 M999.18,349.53 L999.18,380.18 M841.80,327.00 L841.80,298.30 M904.00,327.00 L904.00,298.30 M910.40,327.00 L910.40,298.30 M904.00,402.70 L904.00,431.40 M910.40,402.70 L910.40,431.40 M972.60,327.00 L972.60,298.30 M1005.38,383.78 L1028.76,397.28 M809.02,383.78 L785.64,397.28"/>
<path d="M908.60,1117.50 L940.21,1135.75 M940.21,1135.75 L940.21,1172.25 M940.21,1172.25 L908.60,1190.50 M908.60,1190.50 L876.99,1172.25 M876.99,1172.25 L876.99,1135.75 M876.99,1135.75 L908.60,1117.50 M972.30,1117.50 L1003.91,1135.75 M1003.91,1135.75 L1003.91,1172.25 M1003.91,1172.25 L972.30,1190.50 M972.30,1190.50 L940.69,1172.25 M940.69,1172.25 L940.69,1135.75 M940.69,1135.75 L972.30,1117.50 M1036.00,1117.50 L1067.61,1135.75 M1067.61,1135.75 L1067.61,1172.25 M1067.61,1172.25 L1036.00,1190.50 M1036.00,1190.50 L1004.39,1172.25 M1004.39,1172.25 L1004.39,1135.75 M1004.39,1135.75 L1036.00,1117.50 M883.26,1139.41 L908.63,1124.76 M908.63,1183.24 L883.26,1168.59 M933.91,1139.35 L933.91,1168.65 M997.61,1139.35 L997.61,1168.65 M1061.31,1139.35 L1061.31,1168.65 M908.60,1117.50 L908.60,1090.70 M969.30,1117.50 L969.30,1090.70 M975.30,1117.50 L975.30,1090.70 M969.30,1190.50 L969.30,1217.30 M975.30,1190.50 L975.30,1217.30 M1036.00,1117.50 L1036.00,1090.70 M1067.61,1172.25 L1090.99,1185.75 M876.99,1172.25 L854.47,1185.25 M876.99,1135.75 L857.94,1124.75"/>
</g>
<!-- texts -->
<g font-family="Liberation Serif" fill="#000">
<text transform="translate(153.07,43.90) scale(0.9623,1)" font-size="34.20" stroke="#000" stroke-width="0.5">A</text>
<text transform="translate(153.26,822.90) scale(0.9933,1)" font-size="34.81" stroke="#000" stroke-width="0.5">B</text>
<text transform="translate(41.61,140.27) scale(1.0780,1)" font-size="32.89">1000</text>
<text transform="translate(58.02,397.87) scale(1.1105,1)" font-size="32.74">500</text>
<text transform="translate(94.34,651.37) scale(1.0977,1)" font-size="33.19">0</text>
<text transform="translate(108.46,687.57) scale(1.0919,1)" font-size="33.33">200</text>
<text transform="translate(617.68,687.47) scale(1.0888,1)" font-size="33.48">300</text>
<text transform="translate(1124.48,687.27) scale(1.0785,1)" font-size="33.48">400</text>
<text transform="translate(41.61,920.37) scale(1.0589,1)" font-size="33.48">1000</text>
<text transform="translate(58.23,1178.47) scale(1.0816,1)" font-size="33.48">500</text>
<text transform="translate(94.34,1431.67) scale(1.1126,1)" font-size="32.74">0</text>
<text transform="translate(108.36,1467.37) scale(1.0989,1)" font-size="33.19">200</text>
<text transform="translate(617.68,1467.47) scale(1.0888,1)" font-size="33.48">300</text>
<text transform="translate(1124.48,1467.67) scale(1.0833,1)" font-size="33.33">400</text>
<text transform="translate(518.10,1517.20) scale(1.0393,1)" font-size="34.50">Wavelength (nm)</text>
<text transform="translate(816.37,287.47) scale(1.1494,1)" font-size="33.28" stroke="#000" stroke-width="0.45">OH</text>
<text transform="translate(895.85,287.47) scale(1.0891,1)" font-size="33.28" stroke="#000" stroke-width="0.45">O</text>
<text transform="translate(946.37,287.47) scale(1.1472,1)" font-size="33.28" stroke="#000" stroke-width="0.45">OH</text>
<text transform="translate(728.03,418.85) scale(1.1026,1)" font-size="35.22" stroke="#000" stroke-width="0.45">HO</text>
<text transform="translate(1035.85,426.65) scale(1.1180,1)" font-size="34.63" stroke="#000" stroke-width="0.45">CH</text>
<text transform="translate(1090.05,433.61) scale(1.0811,1)" font-size="19.40" stroke="#000" stroke-width="0.45">3</text>
<text transform="translate(896.19,469.66) scale(1.0515,1)" font-size="33.58" stroke="#000" stroke-width="0.45">O</text>
<text transform="translate(816.56,1119.25) scale(1.0426,1)" font-size="34.57" stroke="#000" stroke-width="0.45">Cl</text>
<text transform="translate(882.06,1082.96) scale(1.1159,1)" font-size="34.48" stroke="#000" stroke-width="0.45">OH</text>
<text transform="translate(957.49,1082.96) scale(1.0967,1)" font-size="34.48" stroke="#000" stroke-width="0.45">O</text>
<text transform="translate(1008.46,1082.96) scale(1.1159,1)" font-size="34.48" stroke="#000" stroke-width="0.45">OH</text>
<text transform="translate(792.05,1205.84) scale(1.0810,1)" font-size="35.52" stroke="#000" stroke-width="0.45">HO</text>
<text transform="translate(1082.55,1216.34) scale(1.0760,1)" font-size="36.12" stroke="#000" stroke-width="0.45">CH</text>
<text transform="translate(1136.75,1222.70) scale(1.0488,1)" font-size="20.00" stroke="#000" stroke-width="0.45">3</text>
<text transform="translate(957.23,1248.15) scale(1.0559,1)" font-size="34.78" stroke="#000" stroke-width="0.45">O</text>
<text transform="translate(22.86,337.17) rotate(-90) scale(1.1295,1)" font-size="34.24">U</text>
<text transform="translate(23.20,360.63) rotate(-90) scale(0.9495,1)" font-size="34.81">A</text>
<text transform="translate(22.86,1117.57) rotate(-90) scale(1.1295,1)" font-size="34.24">U</text>
<text transform="translate(23.20,1140.73) rotate(-90) scale(0.9372,1)" font-size="34.81">A</text>
</g>
</svg>
</body></html>
